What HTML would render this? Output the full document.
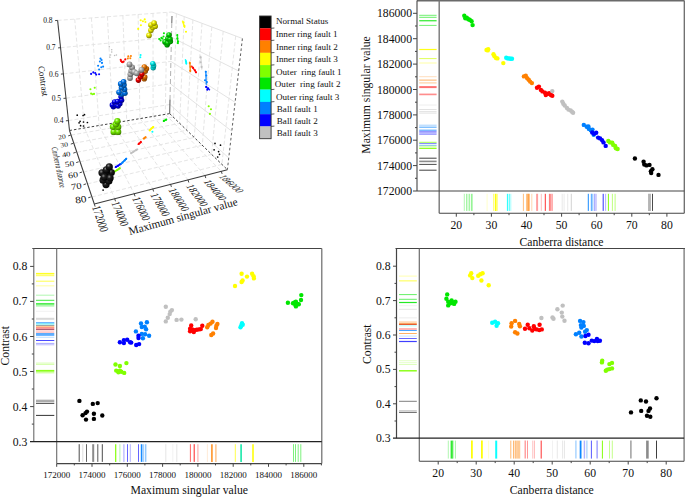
<!DOCTYPE html>
<html><head><meta charset="utf-8"><title>Feature scatter plots</title>
<style>html,body{margin:0;padding:0;background:#fff}svg{display:block}text{font-family:'Liberation Serif', serif}</style>
</head><body>
<svg width="685" height="497" viewBox="0 0 685 497">
<defs>
<radialGradient id="g_k" cx="0.38" cy="0.32" r="0.7"><stop offset="0" stop-color="#8a8a8a"/><stop offset="0.35" stop-color="#202020"/><stop offset="1" stop-color="#000000"/></radialGradient>
<radialGradient id="g_r" cx="0.38" cy="0.32" r="0.7"><stop offset="0" stop-color="#ffb2b2"/><stop offset="0.35" stop-color="#ea0000"/><stop offset="1" stop-color="#7a0000"/></radialGradient>
<radialGradient id="g_o" cx="0.38" cy="0.32" r="0.7"><stop offset="0" stop-color="#ffd8b2"/><stop offset="0.35" stop-color="#ea7500"/><stop offset="1" stop-color="#7a3d00"/></radialGradient>
<radialGradient id="g_y" cx="0.38" cy="0.32" r="0.7"><stop offset="0" stop-color="#ffffb2"/><stop offset="0.35" stop-color="#eaea00"/><stop offset="1" stop-color="#7a7a00"/></radialGradient>
<radialGradient id="g_l" cx="0.38" cy="0.32" r="0.7"><stop offset="0" stop-color="#d8ffb2"/><stop offset="0.35" stop-color="#75ea00"/><stop offset="1" stop-color="#3d7a00"/></radialGradient>
<radialGradient id="g_g" cx="0.38" cy="0.32" r="0.7"><stop offset="0" stop-color="#b2f7b2"/><stop offset="0.35" stop-color="#00d300"/><stop offset="1" stop-color="#006e00"/></radialGradient>
<radialGradient id="g_c" cx="0.38" cy="0.32" r="0.7"><stop offset="0" stop-color="#b2ffff"/><stop offset="0.35" stop-color="#00eaea"/><stop offset="1" stop-color="#007a7a"/></radialGradient>
<radialGradient id="g_b1" cx="0.38" cy="0.32" r="0.7"><stop offset="0" stop-color="#b2d8ff"/><stop offset="0.35" stop-color="#0075ea"/><stop offset="1" stop-color="#003d7a"/></radialGradient>
<radialGradient id="g_b2" cx="0.38" cy="0.32" r="0.7"><stop offset="0" stop-color="#b2b2ff"/><stop offset="0.35" stop-color="#0000ea"/><stop offset="1" stop-color="#00007a"/></radialGradient>
<radialGradient id="g_s" cx="0.38" cy="0.32" r="0.7"><stop offset="0" stop-color="#ececec"/><stop offset="0.35" stop-color="#b0b0b0"/><stop offset="1" stop-color="#5c5c5c"/></radialGradient>
</defs>
<rect width="685" height="497" fill="#fff"/>
<line x1="57.6" y1="20.4" x2="172.0" y2="12.0" stroke="#e0e0e0" stroke-width="0.85" stroke-dasharray="4 2.2"/>
<line x1="60.6" y1="47.7" x2="171.4" y2="37.2" stroke="#e0e0e0" stroke-width="0.85" stroke-dasharray="4 2.2"/>
<line x1="63.4" y1="73.9" x2="170.9" y2="61.4" stroke="#e0e0e0" stroke-width="0.85" stroke-dasharray="4 2.2"/>
<line x1="66.0" y1="98.2" x2="170.4" y2="83.8" stroke="#e0e0e0" stroke-width="0.85" stroke-dasharray="4 2.2"/>
<line x1="68.4" y1="120.6" x2="169.9" y2="104.5" stroke="#e0e0e0" stroke-width="0.85" stroke-dasharray="4 2.2"/>
<line x1="74.7" y1="19.1" x2="84.5" y2="128.0" stroke="#e0e0e0" stroke-width="0.85" stroke-dasharray="4 2.2"/>
<line x1="91.4" y1="17.9" x2="99.1" y2="125.5" stroke="#e0e0e0" stroke-width="0.85" stroke-dasharray="4 2.2"/>
<line x1="107.4" y1="16.7" x2="113.1" y2="123.1" stroke="#e0e0e0" stroke-width="0.85" stroke-dasharray="4 2.2"/>
<line x1="122.9" y1="15.6" x2="126.7" y2="120.9" stroke="#e0e0e0" stroke-width="0.85" stroke-dasharray="4 2.2"/>
<line x1="138.1" y1="14.5" x2="140.0" y2="118.6" stroke="#e0e0e0" stroke-width="0.85" stroke-dasharray="4 2.2"/>
<line x1="153.0" y1="13.4" x2="153.1" y2="116.4" stroke="#e0e0e0" stroke-width="0.85" stroke-dasharray="4 2.2"/>
<line x1="167.0" y1="12.4" x2="165.3" y2="114.3" stroke="#e0e0e0" stroke-width="0.85" stroke-dasharray="4 2.2"/>
<line x1="172.0" y1="12.0" x2="242.4" y2="38.5" stroke="#d9d9d9" stroke-width="0.75" />
<line x1="171.4" y1="37.2" x2="238.7" y2="71.0" stroke="#d9d9d9" stroke-width="0.75" />
<line x1="170.9" y1="61.4" x2="235.1" y2="102.3" stroke="#d9d9d9" stroke-width="0.75" />
<line x1="170.4" y1="83.8" x2="231.8" y2="131.2" stroke="#d9d9d9" stroke-width="0.75" />
<line x1="169.9" y1="104.5" x2="228.7" y2="157.9" stroke="#d9d9d9" stroke-width="0.75" />
<line x1="176.4" y1="13.7" x2="173.3" y2="117.1" stroke="#e0e0e0" stroke-width="0.85" stroke-dasharray="4 2.2"/>
<line x1="184.2" y1="16.6" x2="179.7" y2="123.4" stroke="#e0e0e0" stroke-width="0.85" stroke-dasharray="4 2.2"/>
<line x1="192.9" y1="19.9" x2="186.8" y2="130.3" stroke="#e0e0e0" stroke-width="0.85" stroke-dasharray="4 2.2"/>
<line x1="202.0" y1="23.3" x2="194.3" y2="137.5" stroke="#e0e0e0" stroke-width="0.85" stroke-dasharray="4 2.2"/>
<line x1="211.8" y1="27.0" x2="202.3" y2="145.3" stroke="#e0e0e0" stroke-width="0.85" stroke-dasharray="4 2.2"/>
<line x1="223.2" y1="31.3" x2="211.6" y2="154.4" stroke="#e0e0e0" stroke-width="0.85" stroke-dasharray="4 2.2"/>
<line x1="235.7" y1="36.0" x2="221.9" y2="164.4" stroke="#e0e0e0" stroke-width="0.85" stroke-dasharray="4 2.2"/>
<line x1="84.5" y1="128.0" x2="114.7" y2="198.7" stroke="#e0e0e0" stroke-width="0.85" stroke-dasharray="4 2.2"/>
<line x1="99.1" y1="125.5" x2="134.2" y2="193.7" stroke="#e0e0e0" stroke-width="0.85" stroke-dasharray="4 2.2"/>
<line x1="113.1" y1="123.1" x2="152.8" y2="188.9" stroke="#e0e0e0" stroke-width="0.85" stroke-dasharray="4 2.2"/>
<line x1="126.7" y1="120.9" x2="170.6" y2="184.3" stroke="#e0e0e0" stroke-width="0.85" stroke-dasharray="4 2.2"/>
<line x1="140.0" y1="118.6" x2="188.0" y2="179.9" stroke="#e0e0e0" stroke-width="0.85" stroke-dasharray="4 2.2"/>
<line x1="153.1" y1="116.4" x2="205.0" y2="175.5" stroke="#e0e0e0" stroke-width="0.85" stroke-dasharray="4 2.2"/>
<line x1="165.3" y1="114.3" x2="221.3" y2="171.3" stroke="#e0e0e0" stroke-width="0.85" stroke-dasharray="4 2.2"/>
<line x1="71.1" y1="135.1" x2="173.3" y2="117.1" stroke="#e0e0e0" stroke-width="0.85" stroke-dasharray="4 2.2"/>
<line x1="73.8" y1="143.3" x2="179.7" y2="123.4" stroke="#e0e0e0" stroke-width="0.85" stroke-dasharray="4 2.2"/>
<line x1="76.9" y1="152.3" x2="186.8" y2="130.3" stroke="#e0e0e0" stroke-width="0.85" stroke-dasharray="4 2.2"/>
<line x1="80.1" y1="161.8" x2="194.3" y2="137.5" stroke="#e0e0e0" stroke-width="0.85" stroke-dasharray="4 2.2"/>
<line x1="83.5" y1="172.0" x2="202.3" y2="145.3" stroke="#e0e0e0" stroke-width="0.85" stroke-dasharray="4 2.2"/>
<line x1="87.5" y1="183.9" x2="211.6" y2="154.4" stroke="#e0e0e0" stroke-width="0.85" stroke-dasharray="4 2.2"/>
<line x1="91.9" y1="197.0" x2="221.9" y2="164.4" stroke="#e0e0e0" stroke-width="0.85" stroke-dasharray="4 2.2"/>
<line x1="69.5" y1="130.5" x2="169.7" y2="113.6" stroke="#444" stroke-width="1" stroke-dasharray="2.5 2"/>
<line x1="169.7" y1="113.6" x2="227.4" y2="169.7" stroke="#444" stroke-width="1" stroke-dasharray="2.5 2"/>
<line x1="172.0" y1="16.0" x2="171.8" y2="23.0" stroke="#666" stroke-width="1" />
<line x1="171.8" y1="23.0" x2="170.0" y2="99.6" stroke="#a8a8a8" stroke-width="0.9" stroke-dasharray="5 3"/>
<line x1="170.0" y1="99.6" x2="169.7" y2="113.6" stroke="#555" stroke-width="1" />
<line x1="242.4" y1="38.5" x2="227.4" y2="169.7" stroke="#555" stroke-width="0.95" stroke-dasharray="2.6 2.4"/>
<line x1="57.6" y1="20.4" x2="69.5" y2="130.5" stroke="#3c3c3c" stroke-width="1.05" />
<line x1="69.5" y1="130.5" x2="94.3" y2="204.0" stroke="#3c3c3c" stroke-width="1.05" />
<line x1="94.3" y1="204.0" x2="227.4" y2="169.7" stroke="#3c3c3c" stroke-width="1.05" />
<line x1="55.1" y1="20.6" x2="57.6" y2="20.4" stroke="#333" stroke-width="0.9" />
<text x="52.6" y="23.0" font-size="7.5" text-anchor="end" fill="#111" >0.8</text>
<line x1="58.1" y1="47.9" x2="60.6" y2="47.7" stroke="#333" stroke-width="0.9" />
<text x="55.6" y="50.3" font-size="7.5" text-anchor="end" fill="#111" >0.7</text>
<line x1="60.9" y1="74.1" x2="63.4" y2="73.9" stroke="#333" stroke-width="0.9" />
<text x="58.4" y="76.5" font-size="7.5" text-anchor="end" fill="#111" >0.6</text>
<line x1="63.5" y1="98.4" x2="66.0" y2="98.2" stroke="#333" stroke-width="0.9" />
<text x="61.0" y="100.8" font-size="7.5" text-anchor="end" fill="#111" >0.5</text>
<line x1="65.9" y1="120.8" x2="68.4" y2="120.6" stroke="#333" stroke-width="0.9" />
<text x="63.4" y="123.2" font-size="7.5" text-anchor="end" fill="#111" >0.4</text>
<line x1="68.2" y1="135.9" x2="70.7" y2="135.1" stroke="#333" stroke-width="0.9" />
<text transform="translate(66.0,138.3) rotate(-9) scale(1.2,1)" font-size="6.4" text-anchor="end" fill="#111">20</text>
<line x1="70.8" y1="144.1" x2="73.3" y2="143.3" stroke="#333" stroke-width="0.9" />
<text transform="translate(68.4,146.4) rotate(-9) scale(1.2,1)" font-size="6.4" text-anchor="end" fill="#111">30</text>
<line x1="73.3" y1="153.1" x2="75.8" y2="152.3" stroke="#333" stroke-width="0.9" />
<text transform="translate(70.8,156.1) rotate(-9) scale(1.2,1)" font-size="7.1" text-anchor="end" fill="#111">40</text>
<line x1="76.2" y1="162.6" x2="78.7" y2="161.8" stroke="#333" stroke-width="0.9" />
<text transform="translate(74.5,165.7) rotate(-9) scale(1.2,1)" font-size="7.8" text-anchor="end" fill="#111">50</text>
<line x1="79.6" y1="172.8" x2="82.1" y2="172.0" stroke="#333" stroke-width="0.9" />
<text transform="translate(78.4,177.0) rotate(-9) scale(1.2,1)" font-size="8.3" text-anchor="end" fill="#111">60</text>
<line x1="83.5" y1="184.7" x2="86.0" y2="183.9" stroke="#333" stroke-width="0.9" />
<text transform="translate(82.1,188.3) rotate(-9) scale(1.2,1)" font-size="8.9" text-anchor="end" fill="#111">70</text>
<line x1="88.2" y1="197.8" x2="90.7" y2="197.0" stroke="#333" stroke-width="0.9" />
<text transform="translate(86.9,201.8) rotate(-9) scale(1.2,1)" font-size="9.5" text-anchor="end" fill="#111">80</text>
<line x1="94.3" y1="204.0" x2="95.1" y2="206.6" stroke="#333" stroke-width="0.9" />
<text transform="matrix(0.2255,0.6778,-0.9554,0.2455,92.1,206.9)" font-size="12.6" text-anchor="start" fill="#111">172000</text>
<line x1="114.7" y1="198.7" x2="115.5" y2="201.3" stroke="#333" stroke-width="0.9" />
<text transform="matrix(0.2621,0.6359,-0.9326,0.2396,111.2,202.7)" font-size="12.6" text-anchor="start" fill="#111">174000</text>
<line x1="134.2" y1="193.7" x2="135.0" y2="196.3" stroke="#333" stroke-width="0.9" />
<text transform="matrix(0.2948,0.6097,-0.9099,0.2338,131.9,198.2)" font-size="12.6" text-anchor="start" fill="#111">176000</text>
<line x1="152.8" y1="188.9" x2="153.6" y2="191.5" stroke="#333" stroke-width="0.9" />
<text transform="matrix(0.3413,0.5911,-0.8985,0.2309,150.1,194.5)" font-size="12.6" text-anchor="start" fill="#111">178000</text>
<line x1="170.6" y1="184.3" x2="171.4" y2="186.9" stroke="#333" stroke-width="0.9" />
<text transform="matrix(0.3783,0.5871,-0.8871,0.2280,168.0,189.5)" font-size="12.6" text-anchor="start" fill="#111">180000</text>
<line x1="188.0" y1="179.9" x2="188.8" y2="182.5" stroke="#333" stroke-width="0.9" />
<text transform="matrix(0.4242,0.5548,-0.8644,0.2221,185.5,185.8)" font-size="12.6" text-anchor="start" fill="#111">182000</text>
<line x1="205.0" y1="175.5" x2="205.8" y2="178.1" stroke="#333" stroke-width="0.9" />
<text transform="matrix(0.4566,0.5215,-0.8530,0.2192,203.0,181.2)" font-size="12.6" text-anchor="start" fill="#111">184000</text>
<line x1="221.3" y1="171.3" x2="222.1" y2="173.9" stroke="#333" stroke-width="0.9" />
<text transform="matrix(0.5131,0.4461,-0.8416,0.2163,218.0,176.3)" font-size="12.6" text-anchor="start" fill="#111">186000</text>
<text transform="translate(184,220.0) rotate(-15.6)" font-size="11.2" text-anchor="middle" fill="#111">Maximum singular value</text>
<text transform="translate(40.3,81.5) rotate(82)" font-size="9.0" text-anchor="middle" fill="#111">Contrast</text>
<text transform="translate(55.8,167.9) rotate(78) scale(0.62,1)" font-size="8.9" font-style="italic" text-anchor="middle" fill="#111">Canberra distance</text>
<circle cx="109.3" cy="46.8" r="0.8" fill="#bdbdbd" />
<circle cx="111.7" cy="49.7" r="0.8" fill="#bdbdbd" />
<circle cx="111.7" cy="52.0" r="0.8" fill="#bdbdbd" />
<circle cx="110.5" cy="55.0" r="0.8" fill="#bdbdbd" />
<circle cx="109.9" cy="57.3" r="0.8" fill="#bdbdbd" />
<circle cx="114.6" cy="55.5" r="0.8" fill="#bdbdbd" />
<circle cx="116.4" cy="55.0" r="0.8" fill="#bdbdbd" />
<circle cx="140.7" cy="20.2" r="1.05" fill="#ffff00" />
<circle cx="144.7" cy="19.4" r="1.05" fill="#ffff00" />
<circle cx="145.4" cy="22.0" r="1.05" fill="#ffff00" />
<circle cx="142.9" cy="21.2" r="1.05" fill="#ffff00" />
<circle cx="140.9" cy="25.2" r="1.05" fill="#ffff00" />
<circle cx="138.2" cy="28.9" r="1.05" fill="#ffff00" />
<circle cx="183.6" cy="22.3" r="1.05" fill="#ffff00" />
<circle cx="184.5" cy="26.1" r="1.05" fill="#ffff00" />
<circle cx="186.0" cy="31.8" r="1.05" fill="#ffff00" />
<circle cx="151.5" cy="128.2" r="1.05" fill="#ffff00" />
<circle cx="153.2" cy="127.0" r="1.05" fill="#ffff00" />
<circle cx="149.8" cy="130.3" r="1.05" fill="#ffff00" />
<circle cx="163.9" cy="33.2" r="1.05" fill="#00e600" />
<circle cx="163.5" cy="36.5" r="1.05" fill="#00e600" />
<circle cx="161.4" cy="37.9" r="1.05" fill="#00e600" />
<circle cx="159.2" cy="39.0" r="1.05" fill="#00e600" />
<circle cx="160.6" cy="40.4" r="1.05" fill="#00e600" />
<circle cx="162.4" cy="38.6" r="1.05" fill="#00e600" />
<circle cx="177.3" cy="35.0" r="1.05" fill="#00e600" />
<circle cx="177.3" cy="38.6" r="1.05" fill="#00e600" />
<circle cx="178.0" cy="41.5" r="1.05" fill="#00e600" />
<circle cx="177.7" cy="43.0" r="1.05" fill="#00e600" />
<circle cx="163.9" cy="120.9" r="1.05" fill="#00e600" />
<circle cx="166.1" cy="119.7" r="1.05" fill="#00e600" />
<circle cx="200.6" cy="57.4" r="1.05" fill="#c0c0c0" />
<circle cx="200.6" cy="62.2" r="1.05" fill="#c0c0c0" />
<circle cx="201.6" cy="66.9" r="1.05" fill="#c0c0c0" />
<circle cx="131.2" cy="153.1" r="1.05" fill="#c0c0c0" />
<circle cx="133.4" cy="151.6" r="1.05" fill="#c0c0c0" />
<circle cx="136.4" cy="150.1" r="1.05" fill="#c0c0c0" />
<circle cx="120.7" cy="59.8" r="1.05" fill="#ff0000" />
<circle cx="121.9" cy="61.9" r="1.05" fill="#ff0000" />
<circle cx="123.6" cy="61.5" r="1.05" fill="#ff0000" />
<circle cx="125.3" cy="59.4" r="1.05" fill="#ff0000" />
<circle cx="121.0" cy="61.0" r="1.05" fill="#ff0000" />
<circle cx="122.8" cy="62.2" r="1.05" fill="#ff0000" />
<circle cx="193.1" cy="67.9" r="1.05" fill="#ff0000" />
<circle cx="195.0" cy="70.3" r="1.05" fill="#ff0000" />
<circle cx="195.9" cy="72.2" r="1.05" fill="#ff0000" />
<circle cx="139.1" cy="143.6" r="1.05" fill="#ff0000" />
<circle cx="140.8" cy="141.9" r="1.05" fill="#ff0000" />
<circle cx="128.3" cy="56.4" r="1.05" fill="#ff8000" />
<circle cx="127.8" cy="58.5" r="1.05" fill="#ff8000" />
<circle cx="130.9" cy="56.0" r="1.05" fill="#ff8000" />
<circle cx="130.3" cy="58.2" r="1.05" fill="#ff8000" />
<circle cx="189.8" cy="63.1" r="1.05" fill="#ff8000" />
<circle cx="190.6" cy="66.9" r="1.05" fill="#ff8000" />
<circle cx="190.2" cy="70.7" r="1.05" fill="#ff8000" />
<circle cx="144.2" cy="138.5" r="1.05" fill="#ff8000" />
<circle cx="145.5" cy="137.3" r="1.05" fill="#ff8000" />
<circle cx="140.6" cy="55.0" r="1.05" fill="#00ffff" />
<circle cx="140.3" cy="57.3" r="1.05" fill="#00ffff" />
<circle cx="186.0" cy="61.2" r="1.05" fill="#00ffff" />
<circle cx="186.3" cy="63.0" r="1.05" fill="#00ffff" />
<circle cx="152.4" cy="131.8" r="1.05" fill="#00ffff" />
<circle cx="100.5" cy="58.6" r="1.05" fill="#0080ff" />
<circle cx="101.6" cy="60.0" r="1.05" fill="#0080ff" />
<circle cx="99.9" cy="61.5" r="1.05" fill="#0080ff" />
<circle cx="102.0" cy="62.9" r="1.05" fill="#0080ff" />
<circle cx="98.1" cy="65.8" r="1.05" fill="#0080ff" />
<circle cx="101.3" cy="67.3" r="1.05" fill="#0080ff" />
<circle cx="103.1" cy="66.6" r="1.05" fill="#0080ff" />
<circle cx="99.1" cy="69.5" r="1.05" fill="#0080ff" />
<circle cx="205.8" cy="71.7" r="1.05" fill="#0080ff" />
<circle cx="206.3" cy="75.5" r="1.05" fill="#0080ff" />
<circle cx="205.0" cy="80.2" r="1.05" fill="#0080ff" />
<circle cx="206.9" cy="82.1" r="1.05" fill="#0080ff" />
<circle cx="122.5" cy="162.6" r="1.05" fill="#0080ff" />
<circle cx="124.7" cy="160.4" r="1.05" fill="#0080ff" />
<circle cx="126.1" cy="158.9" r="1.05" fill="#0080ff" />
<circle cx="91.1" cy="73.9" r="1.05" fill="#0000ff" />
<circle cx="93.3" cy="72.4" r="1.05" fill="#0000ff" />
<circle cx="95.2" cy="73.1" r="1.05" fill="#0000ff" />
<circle cx="96.2" cy="74.6" r="1.05" fill="#0000ff" />
<circle cx="99.1" cy="74.3" r="1.05" fill="#0000ff" />
<circle cx="206.3" cy="86.9" r="1.05" fill="#0000ff" />
<circle cx="208.2" cy="88.2" r="1.05" fill="#0000ff" />
<circle cx="207.3" cy="89.7" r="1.05" fill="#0000ff" />
<circle cx="115.9" cy="166.9" r="1.05" fill="#0000ff" />
<circle cx="118.1" cy="165.8" r="1.05" fill="#0000ff" />
<circle cx="120.3" cy="164.3" r="1.05" fill="#0000ff" />
<circle cx="90.4" cy="89.2" r="1.05" fill="#80ff00" />
<circle cx="94.7" cy="87.7" r="1.05" fill="#80ff00" />
<circle cx="91.1" cy="93.6" r="1.05" fill="#80ff00" />
<circle cx="92.6" cy="94.3" r="1.05" fill="#80ff00" />
<circle cx="94.0" cy="93.9" r="1.05" fill="#80ff00" />
<circle cx="208.7" cy="106.3" r="1.05" fill="#80ff00" />
<circle cx="211.0" cy="109.2" r="1.05" fill="#80ff00" />
<circle cx="209.9" cy="113.9" r="1.05" fill="#80ff00" />
<circle cx="115.2" cy="171.3" r="1.05" fill="#80ff00" />
<circle cx="117.4" cy="169.9" r="1.05" fill="#80ff00" />
<circle cx="119.6" cy="168.4" r="1.05" fill="#80ff00" />
<circle cx="77.2" cy="115.2" r="0.85" fill="#000000" />
<circle cx="83.1" cy="115.5" r="0.85" fill="#000000" />
<circle cx="84.5" cy="114.7" r="0.85" fill="#000000" />
<circle cx="80.1" cy="121.3" r="0.85" fill="#000000" />
<circle cx="79.1" cy="122.8" r="0.85" fill="#000000" />
<circle cx="83.5" cy="122.0" r="0.85" fill="#000000" />
<circle cx="87.4" cy="122.5" r="0.85" fill="#000000" />
<circle cx="80.6" cy="125.7" r="0.85" fill="#000000" />
<circle cx="83.5" cy="126.0" r="0.85" fill="#000000" />
<circle cx="215.0" cy="143.4" r="0.85" fill="#000000" />
<circle cx="220.5" cy="145.2" r="0.85" fill="#000000" />
<circle cx="214.1" cy="149.8" r="0.85" fill="#000000" />
<circle cx="218.6" cy="151.6" r="0.85" fill="#000000" />
<circle cx="219.5" cy="154.3" r="0.85" fill="#000000" />
<circle cx="217.7" cy="157.0" r="0.85" fill="#000000" />
<circle cx="103.1" cy="190.1" r="0.85" fill="#000000" />
<line x1="182.6" y1="21.2" x2="184.6" y2="27.2" stroke="#ffff00" stroke-width="1.5" stroke-linecap="round" opacity="0.9"/>
<line x1="177.3" y1="35.4" x2="178.0" y2="43.5" stroke="#00e600" stroke-width="1.5" stroke-linecap="round" opacity="0.8"/>
<line x1="185.5" y1="59.8" x2="186.4" y2="64.0" stroke="#00ffff" stroke-width="1.5" stroke-linecap="round" opacity="0.9"/>
<line x1="189.8" y1="62.2" x2="190.4" y2="71.6" stroke="#ff8000" stroke-width="1.5" stroke-linecap="round" opacity="0.85"/>
<line x1="191.8" y1="66.2" x2="196.2" y2="72.5" stroke="#ff0000" stroke-width="1.5" stroke-linecap="round" opacity="0.85"/>
<line x1="200.7" y1="56.2" x2="201.8" y2="68.9" stroke="#c0c0c0" stroke-width="1.5" stroke-linecap="round" opacity="0.5"/>
<line x1="205.8" y1="71.6" x2="206.3" y2="84.3" stroke="#0080ff" stroke-width="1.5" stroke-linecap="round" opacity="0.8"/>
<line x1="205.8" y1="87.0" x2="209.4" y2="89.7" stroke="#0000ff" stroke-width="1.5" stroke-linecap="round" opacity="0.9"/>
<line x1="131.2" y1="153.4" x2="137.2" y2="149.2" stroke="#c0c0c0" stroke-width="1.7" stroke-linecap="round"/>
<line x1="115.5" y1="167.2" x2="121.0" y2="163.8" stroke="#0000ff" stroke-width="1.7" stroke-linecap="round"/>
<line x1="121.0" y1="163.8" x2="126.4" y2="158.7" stroke="#0080ff" stroke-width="1.7" stroke-linecap="round"/>
<line x1="115.0" y1="171.4" x2="119.8" y2="168.2" stroke="#80ff00" stroke-width="1.7" stroke-linecap="round"/>
<line x1="138.3" y1="144.2" x2="140.9" y2="142.3" stroke="#ff0000" stroke-width="1.7" stroke-linecap="round"/>
<line x1="143.4" y1="138.6" x2="145.6" y2="137.2" stroke="#ff8000" stroke-width="1.7" stroke-linecap="round"/>
<line x1="149.6" y1="130.4" x2="153.3" y2="126.8" stroke="#ffff00" stroke-width="1.7" stroke-linecap="round"/>
<line x1="163.6" y1="121.0" x2="166.4" y2="119.5" stroke="#00e600" stroke-width="1.7" stroke-linecap="round"/>
<circle cx="149.0" cy="35.4" r="2.8" fill="url(#g_y)"/>
<circle cx="150.9" cy="30.3" r="2.8" fill="url(#g_y)"/>
<circle cx="152.6" cy="27.5" r="2.8" fill="url(#g_y)"/>
<circle cx="150.9" cy="25.0" r="2.8" fill="url(#g_y)"/>
<circle cx="155.2" cy="26.3" r="2.8" fill="url(#g_y)"/>
<circle cx="154.1" cy="23.1" r="2.8" fill="url(#g_y)"/>
<circle cx="167.1" cy="44.8" r="2.8" fill="url(#g_g)"/>
<circle cx="165.0" cy="41.9" r="2.8" fill="url(#g_g)"/>
<circle cx="167.9" cy="43.0" r="2.8" fill="url(#g_g)"/>
<circle cx="170.3" cy="41.5" r="2.8" fill="url(#g_g)"/>
<circle cx="167.9" cy="38.6" r="2.8" fill="url(#g_g)"/>
<circle cx="170.0" cy="39.0" r="2.8" fill="url(#g_g)"/>
<circle cx="169.0" cy="35.0" r="2.8" fill="url(#g_g)"/>
<circle cx="153.2" cy="67.8" r="2.7" fill="url(#g_c)"/>
<circle cx="153.6" cy="65.7" r="2.7" fill="url(#g_c)"/>
<circle cx="152.8" cy="63.6" r="2.7" fill="url(#g_c)"/>
<circle cx="144.3" cy="78.8" r="2.8" fill="url(#g_o)"/>
<circle cx="144.7" cy="77.1" r="2.8" fill="url(#g_o)"/>
<circle cx="145.2" cy="71.2" r="2.8" fill="url(#g_o)"/>
<circle cx="146.4" cy="68.7" r="2.8" fill="url(#g_o)"/>
<circle cx="144.3" cy="67.0" r="2.8" fill="url(#g_o)"/>
<circle cx="130.0" cy="78.0" r="2.9" fill="url(#g_s)"/>
<circle cx="130.4" cy="74.2" r="2.9" fill="url(#g_s)"/>
<circle cx="131.2" cy="70.8" r="2.9" fill="url(#g_s)"/>
<circle cx="132.1" cy="67.4" r="2.9" fill="url(#g_s)"/>
<circle cx="129.5" cy="64.4" r="2.9" fill="url(#g_s)"/>
<circle cx="134.2" cy="72.0" r="2.9" fill="url(#g_s)"/>
<circle cx="138.4" cy="80.1" r="2.8" fill="url(#g_r)"/>
<circle cx="140.5" cy="76.7" r="2.8" fill="url(#g_r)"/>
<circle cx="141.8" cy="74.2" r="2.8" fill="url(#g_r)"/>
<circle cx="136.7" cy="73.3" r="2.9" fill="url(#g_s)"/>
<circle cx="141.4" cy="69.9" r="2.9" fill="url(#g_s)"/>
<circle cx="113.4" cy="106.7" r="2.7" fill="url(#g_b2)"/>
<circle cx="112.3" cy="105.0" r="2.7" fill="url(#g_b2)"/>
<circle cx="115.8" cy="105.0" r="2.7" fill="url(#g_b2)"/>
<circle cx="118.1" cy="106.1" r="2.7" fill="url(#g_b2)"/>
<circle cx="119.9" cy="103.8" r="2.7" fill="url(#g_b2)"/>
<circle cx="114.6" cy="102.0" r="2.7" fill="url(#g_b2)"/>
<circle cx="117.5" cy="101.5" r="2.7" fill="url(#g_b2)"/>
<circle cx="121.6" cy="100.3" r="2.7" fill="url(#g_b2)"/>
<circle cx="121.0" cy="96.8" r="2.7" fill="url(#g_b2)"/>
<circle cx="121.6" cy="94.2" r="2.8" fill="url(#g_b1)"/>
<circle cx="124.9" cy="93.2" r="2.8" fill="url(#g_b1)"/>
<circle cx="119.0" cy="92.3" r="2.8" fill="url(#g_b1)"/>
<circle cx="124.5" cy="89.4" r="2.8" fill="url(#g_b1)"/>
<circle cx="121.5" cy="87.7" r="2.8" fill="url(#g_b1)"/>
<circle cx="124.0" cy="85.1" r="2.8" fill="url(#g_b1)"/>
<circle cx="120.7" cy="83.9" r="2.8" fill="url(#g_b1)"/>
<circle cx="123.6" cy="81.8" r="2.8" fill="url(#g_b1)"/>
<circle cx="113.7" cy="131.9" r="3.2" fill="url(#g_l)"/>
<circle cx="118.1" cy="131.9" r="3.2" fill="url(#g_l)"/>
<circle cx="113.0" cy="126.8" r="3.2" fill="url(#g_l)"/>
<circle cx="118.1" cy="127.0" r="3.2" fill="url(#g_l)"/>
<circle cx="115.9" cy="124.2" r="3.2" fill="url(#g_l)"/>
<circle cx="117.4" cy="121.3" r="3.2" fill="url(#g_l)"/>
<circle cx="106.0" cy="184.6" r="3.6" fill="url(#g_k)"/>
<circle cx="103.1" cy="180.2" r="3.6" fill="url(#g_k)"/>
<circle cx="108.9" cy="180.9" r="3.6" fill="url(#g_k)"/>
<circle cx="105.3" cy="176.6" r="3.6" fill="url(#g_k)"/>
<circle cx="102.0" cy="172.8" r="3.6" fill="url(#g_k)"/>
<circle cx="111.3" cy="172.5" r="3.6" fill="url(#g_k)"/>
<circle cx="106.7" cy="171.5" r="3.6" fill="url(#g_k)"/>
<circle cx="106.4" cy="169.9" r="3.6" fill="url(#g_k)"/>
<circle cx="109.3" cy="166.9" r="3.6" fill="url(#g_k)"/>
<circle cx="104.2" cy="177.2" r="3.6" fill="url(#g_k)"/>
<circle cx="110.1" cy="178.0" r="3.6" fill="url(#g_k)"/>
<rect x="259.6" y="16.00" width="11.5" height="12.37" fill="#000000"/>
<text x="276.0" y="24.0" font-size="9.1" text-anchor="start" fill="#111" xml:space="preserve">Normal Status</text>
<rect x="259.6" y="28.27" width="11.5" height="12.37" fill="#ff0000"/>
<text x="275.8" y="37.4" font-size="9.1" text-anchor="start" fill="#111" xml:space="preserve">Inner ring fault 1</text>
<line x1="271.1" y1="28.3" x2="274.4" y2="28.0" stroke="#333" stroke-width="0.8" />
<rect x="259.6" y="40.54" width="11.5" height="12.37" fill="#ff8000"/>
<text x="276.0" y="49.7" font-size="9.1" text-anchor="start" fill="#111" xml:space="preserve">Inner ring fault 2</text>
<line x1="271.1" y1="40.5" x2="274.4" y2="40.2" stroke="#333" stroke-width="0.8" />
<rect x="259.6" y="52.81" width="11.5" height="12.37" fill="#ffff00"/>
<text x="276.0" y="62.1" font-size="9.1" text-anchor="start" fill="#111" xml:space="preserve">Inner ring fault 3</text>
<line x1="271.1" y1="52.8" x2="274.4" y2="52.5" stroke="#333" stroke-width="0.8" />
<rect x="259.6" y="65.08" width="11.5" height="12.37" fill="#80ff00"/>
<text x="276.0" y="74.8" font-size="9.1" text-anchor="start" fill="#111" xml:space="preserve">Outer  ring fault 1</text>
<line x1="271.1" y1="65.1" x2="274.4" y2="64.8" stroke="#333" stroke-width="0.8" />
<rect x="259.6" y="77.35" width="11.5" height="12.37" fill="#00e600"/>
<text x="274.8" y="87.0" font-size="9.1" text-anchor="start" fill="#111" xml:space="preserve">Outer  ring fault 2</text>
<line x1="271.1" y1="77.3" x2="274.4" y2="77.0" stroke="#333" stroke-width="0.8" />
<rect x="259.6" y="89.62" width="11.5" height="12.37" fill="#00ffff"/>
<text x="276.0" y="99.7" font-size="9.1" text-anchor="start" fill="#111" xml:space="preserve">Outer ring fault 3</text>
<line x1="271.1" y1="89.6" x2="274.4" y2="89.3" stroke="#333" stroke-width="0.8" />
<rect x="259.6" y="101.89" width="11.5" height="12.37" fill="#0080ff"/>
<text x="276.8" y="111.5" font-size="9.1" text-anchor="start" fill="#111" xml:space="preserve">Ball fault 1</text>
<line x1="271.1" y1="101.9" x2="274.4" y2="101.6" stroke="#333" stroke-width="0.8" />
<rect x="259.6" y="114.16" width="11.5" height="12.37" fill="#0000ff"/>
<text x="276.8" y="123.6" font-size="9.1" text-anchor="start" fill="#111" xml:space="preserve">Ball fault 2</text>
<line x1="271.1" y1="114.2" x2="274.4" y2="113.9" stroke="#333" stroke-width="0.8" />
<rect x="259.6" y="126.43" width="11.5" height="12.37" fill="#c0c0c0"/>
<text x="276.8" y="135.9" font-size="9.1" text-anchor="start" fill="#111" xml:space="preserve">Ball fault 3</text>
<line x1="271.1" y1="126.4" x2="274.4" y2="126.1" stroke="#333" stroke-width="0.8" />
<rect x="259.6" y="16.0" width="11.5" height="122.7" fill="none" stroke="#333" stroke-width="0.9"/>
<line x1="417.0" y1="0.7" x2="684.3" y2="0.7" stroke="#6a6a6a" stroke-width="1.5" />
<line x1="684.3" y1="0.5" x2="684.3" y2="213.2" stroke="#6a6a6a" stroke-width="1.3" />
<line x1="439.2" y1="0.5" x2="439.2" y2="213.2" stroke="#777" stroke-width="1.4" />
<line x1="417.0" y1="0.5" x2="417.0" y2="191.0" stroke="#444444" stroke-width="1.1" />
<line x1="413.0" y1="191.0" x2="684.3" y2="191.0" stroke="#444444" stroke-width="1.1" />
<line x1="439.2" y1="213.2" x2="684.3" y2="213.2" stroke="#444444" stroke-width="1.1" />
<line x1="413.0" y1="13.3" x2="417.0" y2="13.3" stroke="#444444" stroke-width="1" />
<text x="412.0" y="17.3" font-size="11.7" text-anchor="end" fill="#111" >186000</text>
<line x1="415.0" y1="26.0" x2="417.0" y2="26.0" stroke="#444444" stroke-width="1" />
<line x1="413.0" y1="38.7" x2="417.0" y2="38.7" stroke="#444444" stroke-width="1" />
<text x="412.0" y="42.7" font-size="11.7" text-anchor="end" fill="#111" >184000</text>
<line x1="415.0" y1="51.4" x2="417.0" y2="51.4" stroke="#444444" stroke-width="1" />
<line x1="413.0" y1="64.1" x2="417.0" y2="64.1" stroke="#444444" stroke-width="1" />
<text x="412.0" y="68.1" font-size="11.7" text-anchor="end" fill="#111" >182000</text>
<line x1="415.0" y1="76.8" x2="417.0" y2="76.8" stroke="#444444" stroke-width="1" />
<line x1="413.0" y1="89.5" x2="417.0" y2="89.5" stroke="#444444" stroke-width="1" />
<text x="412.0" y="93.5" font-size="11.7" text-anchor="end" fill="#111" >180000</text>
<line x1="415.0" y1="102.2" x2="417.0" y2="102.2" stroke="#444444" stroke-width="1" />
<line x1="413.0" y1="114.9" x2="417.0" y2="114.9" stroke="#444444" stroke-width="1" />
<text x="412.0" y="118.9" font-size="11.7" text-anchor="end" fill="#111" >178000</text>
<line x1="415.0" y1="127.6" x2="417.0" y2="127.6" stroke="#444444" stroke-width="1" />
<line x1="413.0" y1="140.2" x2="417.0" y2="140.2" stroke="#444444" stroke-width="1" />
<text x="412.0" y="144.2" font-size="11.7" text-anchor="end" fill="#111" >176000</text>
<line x1="415.0" y1="152.9" x2="417.0" y2="152.9" stroke="#444444" stroke-width="1" />
<line x1="413.0" y1="165.6" x2="417.0" y2="165.6" stroke="#444444" stroke-width="1" />
<text x="412.0" y="169.6" font-size="11.7" text-anchor="end" fill="#111" >174000</text>
<line x1="415.0" y1="178.3" x2="417.0" y2="178.3" stroke="#444444" stroke-width="1" />
<text x="412.0" y="195.0" font-size="11.7" text-anchor="end" fill="#111" >172000</text>
<line x1="456.3" y1="213.2" x2="456.3" y2="216.7" stroke="#444444" stroke-width="1" />
<text x="456.3" y="228.5" font-size="11.7" text-anchor="middle" fill="#111" >20</text>
<line x1="473.9" y1="213.2" x2="473.9" y2="215.2" stroke="#444444" stroke-width="1" />
<line x1="491.4" y1="213.2" x2="491.4" y2="216.7" stroke="#444444" stroke-width="1" />
<text x="491.4" y="228.5" font-size="11.7" text-anchor="middle" fill="#111" >30</text>
<line x1="509.0" y1="213.2" x2="509.0" y2="215.2" stroke="#444444" stroke-width="1" />
<line x1="526.5" y1="213.2" x2="526.5" y2="216.7" stroke="#444444" stroke-width="1" />
<text x="526.5" y="228.5" font-size="11.7" text-anchor="middle" fill="#111" >40</text>
<line x1="544.0" y1="213.2" x2="544.0" y2="215.2" stroke="#444444" stroke-width="1" />
<line x1="561.6" y1="213.2" x2="561.6" y2="216.7" stroke="#444444" stroke-width="1" />
<text x="561.6" y="228.5" font-size="11.7" text-anchor="middle" fill="#111" >50</text>
<line x1="579.1" y1="213.2" x2="579.1" y2="215.2" stroke="#444444" stroke-width="1" />
<line x1="596.7" y1="213.2" x2="596.7" y2="216.7" stroke="#444444" stroke-width="1" />
<text x="596.7" y="228.5" font-size="11.7" text-anchor="middle" fill="#111" >60</text>
<line x1="614.2" y1="213.2" x2="614.2" y2="215.2" stroke="#444444" stroke-width="1" />
<line x1="631.8" y1="213.2" x2="631.8" y2="216.7" stroke="#444444" stroke-width="1" />
<text x="631.8" y="228.5" font-size="11.7" text-anchor="middle" fill="#111" >70</text>
<line x1="649.3" y1="213.2" x2="649.3" y2="215.2" stroke="#444444" stroke-width="1" />
<line x1="666.9" y1="213.2" x2="666.9" y2="216.7" stroke="#444444" stroke-width="1" />
<text x="666.9" y="228.5" font-size="11.7" text-anchor="middle" fill="#111" >80</text>
<text x="561.5" y="246.0" font-size="11.7" text-anchor="middle" fill="#111" >Canberra distance</text>
<text transform="translate(370.3,95) rotate(-90)" font-size="11.7" text-anchor="middle" fill="#111">Maximum singular value</text>
<line x1="419.2" y1="15.3" x2="436.6" y2="15.3" stroke="#00e600" stroke-width="1" opacity="0.55"/>
<line x1="419.2" y1="17.3" x2="436.6" y2="17.3" stroke="#00e600" stroke-width="1" opacity="0.6"/>
<line x1="419.2" y1="20.7" x2="436.6" y2="20.7" stroke="#00e600" stroke-width="1.4" opacity="0.7"/>
<line x1="419.2" y1="25.4" x2="436.6" y2="25.4" stroke="#00e600" stroke-width="1" opacity="0.55"/>
<line x1="419.2" y1="49.5" x2="436.6" y2="49.5" stroke="#ffff00" stroke-width="1.2" opacity="0.9"/>
<line x1="419.2" y1="58.6" x2="436.6" y2="58.6" stroke="#d8ff30" stroke-width="1" opacity="0.8"/>
<line x1="419.2" y1="63.0" x2="436.6" y2="63.0" stroke="#ffff00" stroke-width="1" opacity="0.35"/>
<line x1="419.2" y1="76.7" x2="436.6" y2="76.7" stroke="#ff8000" stroke-width="1" opacity="0.25"/>
<line x1="419.2" y1="80.1" x2="436.6" y2="80.1" stroke="#ff8000" stroke-width="1" opacity="0.6"/>
<line x1="419.2" y1="82.9" x2="436.6" y2="82.9" stroke="#ff8000" stroke-width="1.2" opacity="0.35"/>
<line x1="419.2" y1="87.1" x2="436.6" y2="87.1" stroke="#ff0000" stroke-width="2" opacity="0.55"/>
<line x1="419.2" y1="94.2" x2="436.6" y2="94.2" stroke="#ff0000" stroke-width="1" opacity="0.6"/>
<line x1="419.2" y1="95.2" x2="436.6" y2="95.2" stroke="#ff0000" stroke-width="1" opacity="0.15"/>
<line x1="419.2" y1="105.0" x2="436.6" y2="105.0" stroke="#c0c0c0" stroke-width="1" opacity="0.25"/>
<line x1="419.2" y1="109.5" x2="436.6" y2="109.5" stroke="#c0c0c0" stroke-width="1" opacity="0.45"/>
<line x1="419.2" y1="111.5" x2="436.6" y2="111.5" stroke="#c0c0c0" stroke-width="1" opacity="0.4"/>
<line x1="419.2" y1="113.1" x2="436.6" y2="113.1" stroke="#c0c0c0" stroke-width="1.2" opacity="0.4"/>
<line x1="419.2" y1="125.2" x2="436.6" y2="125.2" stroke="#0080ff" stroke-width="1" opacity="0.35"/>
<line x1="419.2" y1="127.2" x2="436.6" y2="127.2" stroke="#0080ff" stroke-width="1.2" opacity="0.6"/>
<line x1="419.2" y1="130.2" x2="436.6" y2="130.2" stroke="#0080ff" stroke-width="1.2" opacity="0.6"/>
<line x1="419.2" y1="131.4" x2="436.6" y2="131.4" stroke="#0000ff" stroke-width="1" opacity="0.45"/>
<line x1="419.2" y1="132.8" x2="436.6" y2="132.8" stroke="#0000ff" stroke-width="1" opacity="0.45"/>
<line x1="419.2" y1="134.2" x2="436.6" y2="134.2" stroke="#0000ff" stroke-width="1" opacity="0.5"/>
<line x1="419.2" y1="142.3" x2="436.6" y2="142.3" stroke="#80ff00" stroke-width="1" opacity="0.7"/>
<line x1="419.2" y1="143.5" x2="436.6" y2="143.5" stroke="#0000ff" stroke-width="1" opacity="0.45"/>
<line x1="419.2" y1="145.3" x2="436.6" y2="145.3" stroke="#0080ff" stroke-width="1" opacity="0.5"/>
<line x1="419.2" y1="146.2" x2="436.6" y2="146.2" stroke="#80ff00" stroke-width="1" opacity="0.4"/>
<line x1="419.2" y1="148.3" x2="436.6" y2="148.3" stroke="#80ff00" stroke-width="1.2" opacity="0.95"/>
<line x1="419.2" y1="158.2" x2="436.6" y2="158.2" stroke="#000000" stroke-width="1" opacity="0.75"/>
<line x1="419.2" y1="161.4" x2="436.6" y2="161.4" stroke="#000000" stroke-width="1.6" opacity="0.45"/>
<line x1="419.2" y1="164.4" x2="436.6" y2="164.4" stroke="#000000" stroke-width="1" opacity="0.7"/>
<line x1="419.2" y1="170.2" x2="436.6" y2="170.2" stroke="#000000" stroke-width="1" opacity="0.75"/>
<line x1="464.3" y1="193.8" x2="464.3" y2="210.9" stroke="#00e600" stroke-width="1" opacity="0.3"/>
<line x1="466.8" y1="193.8" x2="466.8" y2="210.9" stroke="#00e600" stroke-width="1" opacity="0.5"/>
<line x1="469.2" y1="193.8" x2="469.2" y2="210.9" stroke="#00e600" stroke-width="1" opacity="0.5"/>
<line x1="471.4" y1="193.8" x2="471.4" y2="210.9" stroke="#00e600" stroke-width="1" opacity="0.45"/>
<line x1="472.5" y1="193.8" x2="472.5" y2="210.9" stroke="#00e600" stroke-width="1" opacity="0.25"/>
<line x1="487.1" y1="193.8" x2="487.1" y2="210.9" stroke="#ffff00" stroke-width="1" opacity="0.2"/>
<line x1="493.8" y1="193.8" x2="493.8" y2="210.9" stroke="#ffff00" stroke-width="1" opacity="0.7"/>
<line x1="495.7" y1="193.8" x2="495.7" y2="210.9" stroke="#ffff00" stroke-width="1.4" opacity="0.95"/>
<line x1="497.1" y1="193.8" x2="497.1" y2="210.9" stroke="#ffff00" stroke-width="1" opacity="0.7"/>
<line x1="507.5" y1="193.8" x2="507.5" y2="210.9" stroke="#00ffff" stroke-width="1.2" opacity="0.8"/>
<line x1="509.3" y1="193.8" x2="509.3" y2="210.9" stroke="#00ffff" stroke-width="1" opacity="0.7"/>
<line x1="510.8" y1="193.8" x2="510.8" y2="210.9" stroke="#00ffff" stroke-width="1" opacity="0.35"/>
<line x1="523.4" y1="193.8" x2="523.4" y2="210.9" stroke="#ff8000" stroke-width="1" opacity="0.5"/>
<line x1="526.7" y1="193.8" x2="526.7" y2="210.9" stroke="#ff8000" stroke-width="1" opacity="0.55"/>
<line x1="528.1" y1="193.8" x2="528.1" y2="210.9" stroke="#ff8000" stroke-width="1.4" opacity="0.85"/>
<line x1="529.4" y1="193.8" x2="529.4" y2="210.9" stroke="#ff8000" stroke-width="1" opacity="0.5"/>
<line x1="531.8" y1="193.8" x2="531.8" y2="210.9" stroke="#ff8000" stroke-width="1" opacity="0.3"/>
<line x1="536.7" y1="193.8" x2="536.7" y2="210.9" stroke="#ff0000" stroke-width="1" opacity="0.4"/>
<line x1="537.6" y1="193.8" x2="537.6" y2="210.9" stroke="#ff0000" stroke-width="1" opacity="0.35"/>
<line x1="541.3" y1="193.8" x2="541.3" y2="210.9" stroke="#ff0000" stroke-width="1" opacity="0.25"/>
<line x1="545.3" y1="193.8" x2="545.3" y2="210.9" stroke="#ff0000" stroke-width="1" opacity="0.8"/>
<line x1="549.5" y1="193.8" x2="549.5" y2="210.9" stroke="#ff0000" stroke-width="1.2" opacity="0.5"/>
<line x1="550.8" y1="193.8" x2="550.8" y2="210.9" stroke="#ff0000" stroke-width="1" opacity="0.55"/>
<line x1="552.2" y1="193.8" x2="552.2" y2="210.9" stroke="#ff0000" stroke-width="1" opacity="0.45"/>
<line x1="562.2" y1="193.8" x2="562.2" y2="210.9" stroke="#c0c0c0" stroke-width="1" opacity="0.35"/>
<line x1="564.1" y1="193.8" x2="564.1" y2="210.9" stroke="#c0c0c0" stroke-width="1" opacity="0.3"/>
<line x1="567.7" y1="193.8" x2="567.7" y2="210.9" stroke="#c0c0c0" stroke-width="1" opacity="0.35"/>
<line x1="571.3" y1="193.8" x2="571.3" y2="210.9" stroke="#c0c0c0" stroke-width="1" opacity="0.7"/>
<line x1="588.3" y1="193.8" x2="588.3" y2="210.9" stroke="#0080ff" stroke-width="1" opacity="0.9"/>
<line x1="591.4" y1="193.8" x2="591.4" y2="210.9" stroke="#0080ff" stroke-width="1.2" opacity="0.6"/>
<line x1="592.8" y1="193.8" x2="592.8" y2="210.9" stroke="#0080ff" stroke-width="1" opacity="0.5"/>
<line x1="594.7" y1="193.8" x2="594.7" y2="210.9" stroke="#8080ff" stroke-width="1.2" opacity="0.7"/>
<line x1="596.1" y1="193.8" x2="596.1" y2="210.9" stroke="#8080ff" stroke-width="1" opacity="0.6"/>
<line x1="603.2" y1="193.8" x2="603.2" y2="210.9" stroke="#0000ff" stroke-width="1" opacity="0.8"/>
<line x1="605.6" y1="193.8" x2="605.6" y2="210.9" stroke="#8080ff" stroke-width="1" opacity="0.6"/>
<line x1="608.4" y1="193.8" x2="608.4" y2="210.9" stroke="#80ff00" stroke-width="1" opacity="0.95"/>
<line x1="612.4" y1="193.8" x2="612.4" y2="210.9" stroke="#80ff00" stroke-width="1" opacity="0.5"/>
<line x1="615.1" y1="193.8" x2="615.1" y2="210.9" stroke="#80ff00" stroke-width="1" opacity="0.5"/>
<line x1="648.9" y1="193.8" x2="648.9" y2="210.9" stroke="#000000" stroke-width="1.6" opacity="0.3"/>
<line x1="650.3" y1="193.8" x2="650.3" y2="210.9" stroke="#000000" stroke-width="1.2" opacity="0.3"/>
<line x1="652.5" y1="193.8" x2="652.5" y2="210.9" stroke="#000000" stroke-width="1" opacity="0.7"/>
<circle cx="634.9" cy="158.5" r="2.2" fill="#000000" />
<circle cx="643.6" cy="161.7" r="2.2" fill="#000000" />
<circle cx="644.3" cy="164.6" r="2.2" fill="#000000" />
<circle cx="646.5" cy="165.4" r="2.2" fill="#000000" />
<circle cx="649.5" cy="164.9" r="2.2" fill="#000000" />
<circle cx="650.9" cy="171.2" r="2.2" fill="#000000" />
<circle cx="652.4" cy="169.3" r="2.2" fill="#000000" />
<circle cx="651.2" cy="173.1" r="2.2" fill="#000000" />
<circle cx="658.5" cy="174.9" r="2.2" fill="#000000" />
<circle cx="537.0" cy="87.7" r="2.2" fill="#ff0000" />
<circle cx="538.9" cy="86.6" r="2.2" fill="#ff0000" />
<circle cx="540.9" cy="89.9" r="2.2" fill="#ff0000" />
<circle cx="542.4" cy="91.4" r="2.2" fill="#ff0000" />
<circle cx="545.0" cy="92.8" r="2.2" fill="#ff0000" />
<circle cx="545.8" cy="95.0" r="2.2" fill="#ff0000" />
<circle cx="547.7" cy="93.9" r="2.2" fill="#ff0000" />
<circle cx="549.1" cy="93.3" r="2.2" fill="#ff0000" />
<circle cx="550.9" cy="95.0" r="2.2" fill="#ff0000" />
<circle cx="552.3" cy="95.8" r="2.2" fill="#ff0000" />
<circle cx="523.9" cy="76.4" r="2.2" fill="#ff8000" />
<circle cx="525.8" cy="75.8" r="2.2" fill="#ff8000" />
<circle cx="527.2" cy="78.2" r="2.2" fill="#ff8000" />
<circle cx="528.7" cy="79.7" r="2.2" fill="#ff8000" />
<circle cx="530.1" cy="81.6" r="2.2" fill="#ff8000" />
<circle cx="531.9" cy="83.1" r="2.2" fill="#ff8000" />
<circle cx="486.5" cy="49.9" r="2.2" fill="#ffff00" />
<circle cx="487.7" cy="50.4" r="2.2" fill="#ffff00" />
<circle cx="488.2" cy="49.3" r="2.2" fill="#ffff00" />
<circle cx="493.5" cy="54.3" r="2.2" fill="#ffff00" />
<circle cx="494.5" cy="56.2" r="2.2" fill="#ffff00" />
<circle cx="496.0" cy="58.1" r="2.2" fill="#ffff00" />
<circle cx="497.4" cy="58.4" r="2.2" fill="#ffff00" />
<circle cx="503.3" cy="63.1" r="2.2" fill="#ffff00" />
<circle cx="608.3" cy="141.0" r="2.2" fill="#80ff00" />
<circle cx="610.0" cy="142.4" r="2.2" fill="#80ff00" />
<circle cx="612.2" cy="142.7" r="2.2" fill="#80ff00" />
<circle cx="613.2" cy="144.9" r="2.2" fill="#80ff00" />
<circle cx="615.1" cy="145.9" r="2.2" fill="#80ff00" />
<circle cx="615.9" cy="148.3" r="2.2" fill="#80ff00" />
<circle cx="617.6" cy="149.0" r="2.2" fill="#80ff00" />
<circle cx="464.3" cy="15.8" r="2.2" fill="#00e600" />
<circle cx="465.3" cy="18.2" r="2.2" fill="#00e600" />
<circle cx="466.8" cy="17.8" r="2.2" fill="#00e600" />
<circle cx="468.2" cy="19.3" r="2.2" fill="#00e600" />
<circle cx="469.7" cy="19.7" r="2.2" fill="#00e600" />
<circle cx="471.6" cy="21.2" r="2.2" fill="#00e600" />
<circle cx="472.6" cy="25.1" r="2.2" fill="#00e600" />
<circle cx="506.2" cy="57.7" r="2.2" fill="#00ffff" />
<circle cx="507.7" cy="58.4" r="2.2" fill="#00ffff" />
<circle cx="509.1" cy="58.4" r="2.2" fill="#00ffff" />
<circle cx="510.6" cy="58.7" r="2.2" fill="#00ffff" />
<circle cx="512.0" cy="58.8" r="2.2" fill="#00ffff" />
<circle cx="583.8" cy="124.9" r="2.2" fill="#0080ff" />
<circle cx="586.7" cy="126.7" r="2.2" fill="#0080ff" />
<circle cx="588.4" cy="126.4" r="2.2" fill="#0080ff" />
<circle cx="588.9" cy="128.9" r="2.2" fill="#0080ff" />
<circle cx="590.8" cy="130.3" r="2.2" fill="#0080ff" />
<circle cx="592.5" cy="129.6" r="2.2" fill="#0080ff" />
<circle cx="593.7" cy="134.7" r="2.2" fill="#0080ff" />
<circle cx="592.2" cy="132.5" r="2.2" fill="#0000ff" />
<circle cx="594.0" cy="133.7" r="2.2" fill="#0000ff" />
<circle cx="596.2" cy="132.8" r="2.2" fill="#0000ff" />
<circle cx="598.1" cy="137.6" r="2.2" fill="#0000ff" />
<circle cx="600.1" cy="138.4" r="2.2" fill="#0000ff" />
<circle cx="602.0" cy="140.1" r="2.2" fill="#0000ff" />
<circle cx="603.5" cy="142.4" r="2.2" fill="#0000ff" />
<circle cx="605.7" cy="145.9" r="2.2" fill="#0000ff" />
<circle cx="552.3" cy="91.1" r="2.2" fill="#c0c0c0" />
<circle cx="562.3" cy="101.6" r="2.2" fill="#c0c0c0" />
<circle cx="563.3" cy="103.8" r="2.2" fill="#c0c0c0" />
<circle cx="564.7" cy="105.5" r="2.2" fill="#c0c0c0" />
<circle cx="566.9" cy="107.9" r="2.2" fill="#c0c0c0" />
<circle cx="568.4" cy="109.6" r="2.2" fill="#c0c0c0" />
<circle cx="570.6" cy="110.4" r="2.2" fill="#c0c0c0" />
<circle cx="572.0" cy="111.8" r="2.2" fill="#c0c0c0" />
<circle cx="573.1" cy="112.8" r="2.2" fill="#c0c0c0" />
<line x1="32.3" y1="248.5" x2="321.8" y2="248.5" stroke="#444444" stroke-width="1.2" />
<line x1="321.8" y1="248.5" x2="321.8" y2="463.6" stroke="#6a6a6a" stroke-width="1.2" />
<line x1="56.7" y1="248.5" x2="56.7" y2="463.6" stroke="#6a6a6a" stroke-width="1.1" />
<line x1="33.8" y1="248.5" x2="33.8" y2="441.6" stroke="#6a6a6a" stroke-width="1.1" />
<line x1="30.0" y1="441.6" x2="321.8" y2="441.6" stroke="#222" stroke-width="1.3" />
<line x1="56.7" y1="463.6" x2="321.8" y2="463.6" stroke="#444444" stroke-width="1.1" />
<line x1="30.1" y1="266.4" x2="33.8" y2="266.4" stroke="#444444" stroke-width="1" />
<text x="27.3" y="270.4" font-size="11.7" text-anchor="end" fill="#111" >0.8</text>
<line x1="31.8" y1="283.9" x2="33.8" y2="283.9" stroke="#444444" stroke-width="1" />
<line x1="30.1" y1="301.4" x2="33.8" y2="301.4" stroke="#444444" stroke-width="1" />
<text x="27.3" y="305.4" font-size="11.7" text-anchor="end" fill="#111" >0.7</text>
<line x1="31.8" y1="319.0" x2="33.8" y2="319.0" stroke="#444444" stroke-width="1" />
<line x1="30.1" y1="336.5" x2="33.8" y2="336.5" stroke="#444444" stroke-width="1" />
<text x="27.3" y="340.5" font-size="11.7" text-anchor="end" fill="#111" >0.6</text>
<line x1="31.8" y1="354.0" x2="33.8" y2="354.0" stroke="#444444" stroke-width="1" />
<line x1="30.1" y1="371.5" x2="33.8" y2="371.5" stroke="#444444" stroke-width="1" />
<text x="27.3" y="375.5" font-size="11.7" text-anchor="end" fill="#111" >0.5</text>
<line x1="31.8" y1="389.0" x2="33.8" y2="389.0" stroke="#444444" stroke-width="1" />
<line x1="30.1" y1="406.6" x2="33.8" y2="406.6" stroke="#444444" stroke-width="1" />
<text x="27.3" y="410.6" font-size="11.7" text-anchor="end" fill="#111" >0.4</text>
<line x1="31.8" y1="424.1" x2="33.8" y2="424.1" stroke="#444444" stroke-width="1" />
<text x="27.3" y="445.6" font-size="11.7" text-anchor="end" fill="#111" >0.3</text>
<line x1="56.7" y1="463.6" x2="56.7" y2="466.8" stroke="#444444" stroke-width="1" />
<text x="56.7" y="478.2" font-size="9.0" text-anchor="middle" fill="#111" >172000</text>
<line x1="74.3" y1="463.6" x2="74.3" y2="465.4" stroke="#444444" stroke-width="1" />
<line x1="92.0" y1="463.6" x2="92.0" y2="466.8" stroke="#444444" stroke-width="1" />
<text x="92.0" y="478.2" font-size="9.0" text-anchor="middle" fill="#111" >174000</text>
<line x1="109.7" y1="463.6" x2="109.7" y2="465.4" stroke="#444444" stroke-width="1" />
<line x1="127.3" y1="463.6" x2="127.3" y2="466.8" stroke="#444444" stroke-width="1" />
<text x="127.3" y="478.2" font-size="9.0" text-anchor="middle" fill="#111" >176000</text>
<line x1="144.9" y1="463.6" x2="144.9" y2="465.4" stroke="#444444" stroke-width="1" />
<line x1="162.6" y1="463.6" x2="162.6" y2="466.8" stroke="#444444" stroke-width="1" />
<text x="162.6" y="478.2" font-size="9.0" text-anchor="middle" fill="#111" >178000</text>
<line x1="180.2" y1="463.6" x2="180.2" y2="465.4" stroke="#444444" stroke-width="1" />
<line x1="197.9" y1="463.6" x2="197.9" y2="466.8" stroke="#444444" stroke-width="1" />
<text x="197.9" y="478.2" font-size="9.0" text-anchor="middle" fill="#111" >180000</text>
<line x1="215.5" y1="463.6" x2="215.5" y2="465.4" stroke="#444444" stroke-width="1" />
<line x1="233.2" y1="463.6" x2="233.2" y2="466.8" stroke="#444444" stroke-width="1" />
<text x="233.2" y="478.2" font-size="9.0" text-anchor="middle" fill="#111" >182000</text>
<line x1="250.8" y1="463.6" x2="250.8" y2="465.4" stroke="#444444" stroke-width="1" />
<line x1="268.5" y1="463.6" x2="268.5" y2="466.8" stroke="#444444" stroke-width="1" />
<text x="268.5" y="478.2" font-size="9.0" text-anchor="middle" fill="#111" >184000</text>
<line x1="286.1" y1="463.6" x2="286.1" y2="465.4" stroke="#444444" stroke-width="1" />
<line x1="303.8" y1="463.6" x2="303.8" y2="466.8" stroke="#444444" stroke-width="1" />
<text x="303.8" y="478.2" font-size="9.0" text-anchor="middle" fill="#111" >186000</text>
<line x1="321.4" y1="463.6" x2="321.4" y2="465.4" stroke="#444444" stroke-width="1" />
<text x="189.3" y="493.6" font-size="11.7" text-anchor="middle" fill="#111" >Maximum singular value</text>
<text transform="translate(8.7,345.7) rotate(-90)" font-size="11.7" text-anchor="middle" fill="#111">Contrast</text>
<line x1="36.0" y1="273.7" x2="54.3" y2="273.7" stroke="#ffff00" stroke-width="1.6" opacity="0.85"/>
<line x1="36.0" y1="275.7" x2="54.3" y2="275.7" stroke="#ffff00" stroke-width="1" opacity="0.7"/>
<line x1="36.0" y1="281.2" x2="54.3" y2="281.2" stroke="#ffff00" stroke-width="1" opacity="0.7"/>
<line x1="36.0" y1="285.8" x2="54.3" y2="285.8" stroke="#ffff00" stroke-width="1.2" opacity="0.3"/>
<line x1="36.0" y1="295.2" x2="54.3" y2="295.2" stroke="#00e600" stroke-width="1" opacity="0.3"/>
<line x1="36.0" y1="300.3" x2="54.3" y2="300.3" stroke="#00e600" stroke-width="1" opacity="0.75"/>
<line x1="36.0" y1="303.9" x2="54.3" y2="303.9" stroke="#00e600" stroke-width="1.5" opacity="0.8"/>
<line x1="36.0" y1="305.9" x2="54.3" y2="305.9" stroke="#00e600" stroke-width="1" opacity="0.5"/>
<line x1="36.0" y1="311.3" x2="54.3" y2="311.3" stroke="#c0c0c0" stroke-width="1" opacity="0.2"/>
<line x1="36.0" y1="318.8" x2="54.3" y2="318.8" stroke="#c0c0c0" stroke-width="2" opacity="0.6"/>
<line x1="36.0" y1="322.8" x2="54.3" y2="322.8" stroke="#0080ff" stroke-width="1.2" opacity="0.7"/>
<line x1="36.0" y1="324.0" x2="54.3" y2="324.0" stroke="#00ffff" stroke-width="1" opacity="0.6"/>
<line x1="36.0" y1="325.4" x2="54.3" y2="325.4" stroke="#555" stroke-width="1" opacity="0.6"/>
<line x1="36.0" y1="326.8" x2="54.3" y2="326.8" stroke="#ff8000" stroke-width="1" opacity="0.6"/>
<line x1="36.0" y1="328.0" x2="54.3" y2="328.0" stroke="#ff0000" stroke-width="1" opacity="0.7"/>
<line x1="36.0" y1="329.4" x2="54.3" y2="329.4" stroke="#800020" stroke-width="1" opacity="0.7"/>
<line x1="36.0" y1="331.0" x2="54.3" y2="331.0" stroke="#ff0000" stroke-width="1.4" opacity="0.2"/>
<line x1="36.0" y1="332.5" x2="54.3" y2="332.5" stroke="#ff0000" stroke-width="1.2" opacity="0.2"/>
<line x1="36.0" y1="334.0" x2="54.3" y2="334.0" stroke="#0080ff" stroke-width="1.4" opacity="0.9"/>
<line x1="36.0" y1="335.6" x2="54.3" y2="335.6" stroke="#0080ff" stroke-width="1" opacity="0.6"/>
<line x1="36.0" y1="337.5" x2="54.3" y2="337.5" stroke="#0080ff" stroke-width="1" opacity="0.2"/>
<line x1="36.0" y1="340.5" x2="54.3" y2="340.5" stroke="#0000ff" stroke-width="1" opacity="0.7"/>
<line x1="36.0" y1="343.5" x2="54.3" y2="343.5" stroke="#8080ff" stroke-width="1.2" opacity="0.6"/>
<line x1="36.0" y1="344.8" x2="54.3" y2="344.8" stroke="#8080ff" stroke-width="1" opacity="0.5"/>
<line x1="36.0" y1="363.1" x2="54.3" y2="363.1" stroke="#80ff00" stroke-width="1" opacity="0.3"/>
<line x1="36.0" y1="364.5" x2="54.3" y2="364.5" stroke="#80ff00" stroke-width="1" opacity="0.3"/>
<line x1="36.0" y1="370.8" x2="54.3" y2="370.8" stroke="#80ff00" stroke-width="1.8" opacity="0.9"/>
<line x1="36.0" y1="372.8" x2="54.3" y2="372.8" stroke="#80ff00" stroke-width="1" opacity="0.5"/>
<line x1="36.0" y1="400.3" x2="54.3" y2="400.3" stroke="#000000" stroke-width="1.2" opacity="0.35"/>
<line x1="36.0" y1="401.7" x2="54.3" y2="401.7" stroke="#000000" stroke-width="1" opacity="0.4"/>
<line x1="36.0" y1="403.4" x2="54.3" y2="403.4" stroke="#000000" stroke-width="1" opacity="0.7"/>
<line x1="36.0" y1="415.4" x2="54.3" y2="415.4" stroke="#000000" stroke-width="1" opacity="0.8"/>
<line x1="79.2" y1="444.2" x2="79.2" y2="461.9" stroke="#000000" stroke-width="1" opacity="0.7"/>
<line x1="82.8" y1="444.2" x2="82.8" y2="461.9" stroke="#000000" stroke-width="1" opacity="0.12"/>
<line x1="86.5" y1="444.2" x2="86.5" y2="461.9" stroke="#000000" stroke-width="1" opacity="0.6"/>
<line x1="93.2" y1="444.2" x2="93.2" y2="461.9" stroke="#000000" stroke-width="2" opacity="0.45"/>
<line x1="97.8" y1="444.2" x2="97.8" y2="461.9" stroke="#000000" stroke-width="1" opacity="0.65"/>
<line x1="102.3" y1="444.2" x2="102.3" y2="461.9" stroke="#000000" stroke-width="1" opacity="0.7"/>
<line x1="115.7" y1="444.2" x2="115.7" y2="461.9" stroke="#80ff00" stroke-width="1.2" opacity="0.95"/>
<line x1="119.9" y1="444.2" x2="119.9" y2="461.9" stroke="#00e600" stroke-width="1" opacity="0.3"/>
<line x1="123.9" y1="444.2" x2="123.9" y2="461.9" stroke="#8080ff" stroke-width="1.2" opacity="0.6"/>
<line x1="127.5" y1="444.2" x2="127.5" y2="461.9" stroke="#0000ff" stroke-width="1" opacity="0.6"/>
<line x1="130.3" y1="444.2" x2="130.3" y2="461.9" stroke="#8080ff" stroke-width="1" opacity="0.6"/>
<line x1="138.5" y1="444.2" x2="138.5" y2="461.9" stroke="#0000ff" stroke-width="1" opacity="0.6"/>
<line x1="141.6" y1="444.2" x2="141.6" y2="461.9" stroke="#0080ff" stroke-width="1.6" opacity="0.9"/>
<line x1="143.6" y1="444.2" x2="143.6" y2="461.9" stroke="#0080ff" stroke-width="1.2" opacity="0.35"/>
<line x1="145.8" y1="444.2" x2="145.8" y2="461.9" stroke="#0080ff" stroke-width="1" opacity="0.6"/>
<line x1="165.8" y1="444.2" x2="165.8" y2="461.9" stroke="#c0c0c0" stroke-width="1" opacity="0.4"/>
<line x1="172.8" y1="444.2" x2="172.8" y2="461.9" stroke="#c0c0c0" stroke-width="1" opacity="0.2"/>
<line x1="176.8" y1="444.2" x2="176.8" y2="461.9" stroke="#c0c0c0" stroke-width="1" opacity="0.4"/>
<line x1="190.4" y1="444.2" x2="190.4" y2="461.9" stroke="#ff0000" stroke-width="1" opacity="0.6"/>
<line x1="194.2" y1="444.2" x2="194.2" y2="461.9" stroke="#ff0000" stroke-width="1" opacity="0.85"/>
<line x1="197.9" y1="444.2" x2="197.9" y2="461.9" stroke="#ff0000" stroke-width="1.2" opacity="0.3"/>
<line x1="207.4" y1="444.2" x2="207.4" y2="461.9" stroke="#ff8000" stroke-width="1" opacity="0.15"/>
<line x1="211.9" y1="444.2" x2="211.9" y2="461.9" stroke="#ff8000" stroke-width="1.8" opacity="0.75"/>
<line x1="215.9" y1="444.2" x2="215.9" y2="461.9" stroke="#ff8000" stroke-width="1.2" opacity="0.55"/>
<line x1="235.3" y1="444.2" x2="235.3" y2="461.9" stroke="#ffff00" stroke-width="1" opacity="0.7"/>
<line x1="241.1" y1="444.2" x2="241.1" y2="461.9" stroke="#00e6a0" stroke-width="1.6" opacity="0.9"/>
<line x1="253.0" y1="444.2" x2="253.0" y2="461.9" stroke="#ffff00" stroke-width="1.6" opacity="0.95"/>
<line x1="293.5" y1="444.2" x2="293.5" y2="461.9" stroke="#00e600" stroke-width="1" opacity="0.5"/>
<line x1="295.5" y1="444.2" x2="295.5" y2="461.9" stroke="#00e600" stroke-width="1" opacity="0.5"/>
<line x1="298.2" y1="444.2" x2="298.2" y2="461.9" stroke="#00e600" stroke-width="1" opacity="0.5"/>
<line x1="300.8" y1="444.2" x2="300.8" y2="461.9" stroke="#00e600" stroke-width="1" opacity="0.5"/>
<circle cx="79.4" cy="400.9" r="2.2" fill="#000000" />
<circle cx="92.8" cy="403.9" r="2.2" fill="#000000" />
<circle cx="97.7" cy="403.1" r="2.2" fill="#000000" />
<circle cx="87.0" cy="411.6" r="2.2" fill="#000000" />
<circle cx="85.5" cy="413.1" r="2.2" fill="#000000" />
<circle cx="82.6" cy="415.3" r="2.2" fill="#000000" />
<circle cx="93.9" cy="413.8" r="2.2" fill="#000000" />
<circle cx="102.3" cy="415.5" r="2.2" fill="#000000" />
<circle cx="86.0" cy="419.6" r="2.2" fill="#000000" />
<circle cx="93.9" cy="418.9" r="2.2" fill="#000000" />
<circle cx="191.2" cy="325.5" r="2.2" fill="#ff0000" />
<circle cx="202.3" cy="325.8" r="2.2" fill="#ff0000" />
<circle cx="190.1" cy="328.7" r="2.2" fill="#ff0000" />
<circle cx="192.3" cy="329.4" r="2.2" fill="#ff0000" />
<circle cx="194.5" cy="330.1" r="2.2" fill="#ff0000" />
<circle cx="196.7" cy="329.7" r="2.2" fill="#ff0000" />
<circle cx="198.9" cy="329.4" r="2.2" fill="#ff0000" />
<circle cx="200.8" cy="329.1" r="2.2" fill="#ff0000" />
<circle cx="190.1" cy="331.3" r="2.2" fill="#ff0000" />
<circle cx="193.8" cy="332.0" r="2.2" fill="#ff0000" />
<circle cx="212.5" cy="321.8" r="2.2" fill="#ff8000" />
<circle cx="210.6" cy="323.6" r="2.2" fill="#ff8000" />
<circle cx="208.4" cy="325.0" r="2.2" fill="#ff8000" />
<circle cx="207.2" cy="327.2" r="2.2" fill="#ff8000" />
<circle cx="217.4" cy="323.9" r="2.2" fill="#ff8000" />
<circle cx="216.4" cy="325.8" r="2.2" fill="#ff8000" />
<circle cx="216.0" cy="328.0" r="2.2" fill="#ff8000" />
<circle cx="213.1" cy="333.5" r="2.2" fill="#ff8000" />
<circle cx="211.3" cy="335.0" r="2.2" fill="#ff8000" />
<circle cx="241.6" cy="273.7" r="2.2" fill="#ffff00" />
<circle cx="247.0" cy="276.6" r="2.2" fill="#ffff00" />
<circle cx="252.1" cy="273.7" r="2.2" fill="#ffff00" />
<circle cx="253.6" cy="276.2" r="2.2" fill="#ffff00" />
<circle cx="253.9" cy="278.4" r="2.2" fill="#ffff00" />
<circle cx="242.6" cy="280.5" r="2.2" fill="#ffff00" />
<circle cx="241.6" cy="282.0" r="2.2" fill="#ffff00" />
<circle cx="235.0" cy="286.0" r="2.2" fill="#ffff00" />
<circle cx="126.4" cy="363.1" r="2.2" fill="#80ff00" />
<circle cx="115.5" cy="364.5" r="2.2" fill="#80ff00" />
<circle cx="119.9" cy="366.0" r="2.2" fill="#80ff00" />
<circle cx="116.2" cy="370.6" r="2.2" fill="#80ff00" />
<circle cx="118.4" cy="372.2" r="2.2" fill="#80ff00" />
<circle cx="121.3" cy="371.8" r="2.2" fill="#80ff00" />
<circle cx="124.2" cy="372.9" r="2.2" fill="#80ff00" />
<circle cx="119.9" cy="370.8" r="2.2" fill="#80ff00" />
<circle cx="301.3" cy="295.1" r="2.2" fill="#00e600" />
<circle cx="301.0" cy="300.0" r="2.2" fill="#00e600" />
<circle cx="287.9" cy="302.7" r="2.2" fill="#00e600" />
<circle cx="293.0" cy="303.2" r="2.2" fill="#00e600" />
<circle cx="294.5" cy="302.4" r="2.2" fill="#00e600" />
<circle cx="295.9" cy="301.7" r="2.2" fill="#00e600" />
<circle cx="297.4" cy="303.9" r="2.2" fill="#00e600" />
<circle cx="295.2" cy="304.6" r="2.2" fill="#00e600" />
<circle cx="295.9" cy="306.4" r="2.2" fill="#00e600" />
<circle cx="298.8" cy="304.3" r="2.2" fill="#00e600" />
<circle cx="242.0" cy="323.3" r="2.2" fill="#00ffff" />
<circle cx="242.7" cy="324.7" r="2.2" fill="#00ffff" />
<circle cx="241.2" cy="325.8" r="2.2" fill="#00ffff" />
<circle cx="240.5" cy="327.2" r="2.2" fill="#00ffff" />
<circle cx="141.0" cy="323.4" r="2.2" fill="#0080ff" />
<circle cx="146.9" cy="322.2" r="2.2" fill="#0080ff" />
<circle cx="141.8" cy="327.0" r="2.2" fill="#0080ff" />
<circle cx="144.7" cy="326.6" r="2.2" fill="#0080ff" />
<circle cx="146.1" cy="329.2" r="2.2" fill="#0080ff" />
<circle cx="135.9" cy="331.4" r="2.2" fill="#0080ff" />
<circle cx="141.8" cy="333.9" r="2.2" fill="#0080ff" />
<circle cx="145.1" cy="334.3" r="2.2" fill="#0080ff" />
<circle cx="149.1" cy="335.8" r="2.2" fill="#0080ff" />
<circle cx="142.9" cy="338.2" r="2.2" fill="#0080ff" />
<circle cx="138.5" cy="335.8" r="2.2" fill="#0000ff" />
<circle cx="138.5" cy="338.0" r="2.2" fill="#0000ff" />
<circle cx="119.9" cy="342.3" r="2.2" fill="#0000ff" />
<circle cx="123.9" cy="340.1" r="2.2" fill="#0000ff" />
<circle cx="127.2" cy="339.7" r="2.2" fill="#0000ff" />
<circle cx="123.9" cy="343.1" r="2.2" fill="#0000ff" />
<circle cx="130.1" cy="342.3" r="2.2" fill="#0000ff" />
<circle cx="131.2" cy="342.6" r="2.2" fill="#0000ff" />
<circle cx="136.2" cy="345.0" r="2.2" fill="#0000ff" />
<circle cx="139.1" cy="344.1" r="2.2" fill="#0000ff" />
<circle cx="165.8" cy="306.8" r="2.2" fill="#c0c0c0" />
<circle cx="171.9" cy="310.1" r="2.2" fill="#c0c0c0" />
<circle cx="170.4" cy="311.6" r="2.2" fill="#c0c0c0" />
<circle cx="169.7" cy="314.1" r="2.2" fill="#c0c0c0" />
<circle cx="167.8" cy="317.7" r="2.2" fill="#c0c0c0" />
<circle cx="165.8" cy="321.4" r="2.2" fill="#c0c0c0" />
<circle cx="176.6" cy="319.9" r="2.2" fill="#c0c0c0" />
<circle cx="181.4" cy="319.6" r="2.2" fill="#c0c0c0" />
<circle cx="195.7" cy="319.2" r="2.2" fill="#c0c0c0" />
<line x1="395.5" y1="248.5" x2="685.0" y2="248.5" stroke="#444444" stroke-width="1.2" />
<line x1="684.1" y1="248.5" x2="684.1" y2="461.3" stroke="#6a6a6a" stroke-width="1.2" />
<line x1="419.3" y1="248.5" x2="419.3" y2="461.3" stroke="#6a6a6a" stroke-width="1.2" />
<line x1="396.5" y1="248.5" x2="396.5" y2="438.2" stroke="#444444" stroke-width="1.2" />
<line x1="393.0" y1="438.2" x2="684.1" y2="438.2" stroke="#222" stroke-width="1.2" />
<line x1="419.3" y1="461.3" x2="684.1" y2="461.3" stroke="#444444" stroke-width="1.1" />
<line x1="393.0" y1="266.2" x2="396.5" y2="266.2" stroke="#444444" stroke-width="1" />
<text x="390.5" y="270.2" font-size="11.7" text-anchor="end" fill="#111" >0.8</text>
<line x1="394.5" y1="283.4" x2="396.5" y2="283.4" stroke="#444444" stroke-width="1" />
<line x1="393.0" y1="300.6" x2="396.5" y2="300.6" stroke="#444444" stroke-width="1" />
<text x="390.5" y="304.6" font-size="11.7" text-anchor="end" fill="#111" >0.7</text>
<line x1="394.5" y1="317.8" x2="396.5" y2="317.8" stroke="#444444" stroke-width="1" />
<line x1="393.0" y1="335.0" x2="396.5" y2="335.0" stroke="#444444" stroke-width="1" />
<text x="390.5" y="339.0" font-size="11.7" text-anchor="end" fill="#111" >0.6</text>
<line x1="394.5" y1="352.2" x2="396.5" y2="352.2" stroke="#444444" stroke-width="1" />
<line x1="393.0" y1="369.4" x2="396.5" y2="369.4" stroke="#444444" stroke-width="1" />
<text x="390.5" y="373.4" font-size="11.7" text-anchor="end" fill="#111" >0.5</text>
<line x1="394.5" y1="386.6" x2="396.5" y2="386.6" stroke="#444444" stroke-width="1" />
<line x1="393.0" y1="403.8" x2="396.5" y2="403.8" stroke="#444444" stroke-width="1" />
<text x="390.5" y="407.8" font-size="11.7" text-anchor="end" fill="#111" >0.4</text>
<line x1="394.5" y1="421.0" x2="396.5" y2="421.0" stroke="#444444" stroke-width="1" />
<text x="390.5" y="442.2" font-size="11.7" text-anchor="end" fill="#111" >0.3</text>
<line x1="438.2" y1="461.3" x2="438.2" y2="464.5" stroke="#444444" stroke-width="1" />
<text x="438.2" y="476.5" font-size="11.7" text-anchor="middle" fill="#111" >20</text>
<line x1="457.2" y1="461.3" x2="457.2" y2="463.1" stroke="#444444" stroke-width="1" />
<line x1="476.2" y1="461.3" x2="476.2" y2="464.5" stroke="#444444" stroke-width="1" />
<text x="476.2" y="476.5" font-size="11.7" text-anchor="middle" fill="#111" >30</text>
<line x1="495.2" y1="461.3" x2="495.2" y2="463.1" stroke="#444444" stroke-width="1" />
<line x1="514.2" y1="461.3" x2="514.2" y2="464.5" stroke="#444444" stroke-width="1" />
<text x="514.2" y="476.5" font-size="11.7" text-anchor="middle" fill="#111" >40</text>
<line x1="533.2" y1="461.3" x2="533.2" y2="463.1" stroke="#444444" stroke-width="1" />
<line x1="552.2" y1="461.3" x2="552.2" y2="464.5" stroke="#444444" stroke-width="1" />
<text x="552.2" y="476.5" font-size="11.7" text-anchor="middle" fill="#111" >50</text>
<line x1="571.2" y1="461.3" x2="571.2" y2="463.1" stroke="#444444" stroke-width="1" />
<line x1="590.2" y1="461.3" x2="590.2" y2="464.5" stroke="#444444" stroke-width="1" />
<text x="590.2" y="476.5" font-size="11.7" text-anchor="middle" fill="#111" >60</text>
<line x1="609.2" y1="461.3" x2="609.2" y2="463.1" stroke="#444444" stroke-width="1" />
<line x1="628.2" y1="461.3" x2="628.2" y2="464.5" stroke="#444444" stroke-width="1" />
<text x="628.2" y="476.5" font-size="11.7" text-anchor="middle" fill="#111" >70</text>
<line x1="647.2" y1="461.3" x2="647.2" y2="463.1" stroke="#444444" stroke-width="1" />
<line x1="666.2" y1="461.3" x2="666.2" y2="464.5" stroke="#444444" stroke-width="1" />
<text x="666.2" y="476.5" font-size="11.7" text-anchor="middle" fill="#111" >80</text>
<text x="551.8" y="494.3" font-size="11.7" text-anchor="middle" fill="#111" >Canberra distance</text>
<text transform="translate(370.6,344.2) rotate(-90)" font-size="11.7" text-anchor="middle" fill="#111">Contrast</text>
<line x1="399.0" y1="276.1" x2="416.8" y2="276.1" stroke="#ffff00" stroke-width="1" opacity="0.3"/>
<line x1="399.0" y1="280.8" x2="416.8" y2="280.8" stroke="#ffff00" stroke-width="1.6" opacity="0.45"/>
<line x1="399.0" y1="294.6" x2="416.8" y2="294.6" stroke="#00e600" stroke-width="1" opacity="0.6"/>
<line x1="399.0" y1="299.3" x2="416.8" y2="299.3" stroke="#00e600" stroke-width="1" opacity="0.6"/>
<line x1="399.0" y1="302.5" x2="416.8" y2="302.5" stroke="#00e600" stroke-width="1.2" opacity="0.85"/>
<line x1="399.0" y1="305.7" x2="416.8" y2="305.7" stroke="#c0c0c0" stroke-width="1" opacity="0.2"/>
<line x1="399.0" y1="309.3" x2="416.8" y2="309.3" stroke="#c0c0c0" stroke-width="1" opacity="0.4"/>
<line x1="399.0" y1="317.8" x2="416.8" y2="317.8" stroke="#c0c0c0" stroke-width="1.4" opacity="0.2"/>
<line x1="399.0" y1="322.0" x2="416.8" y2="322.0" stroke="#ff8000" stroke-width="1.4" opacity="0.3"/>
<line x1="399.0" y1="323.4" x2="416.8" y2="323.4" stroke="#ff8000" stroke-width="1" opacity="0.6"/>
<line x1="399.0" y1="324.4" x2="416.8" y2="324.4" stroke="#e04010" stroke-width="1.2" opacity="0.85"/>
<line x1="399.0" y1="325.8" x2="416.8" y2="325.8" stroke="#00ffff" stroke-width="1" opacity="0.3"/>
<line x1="399.0" y1="329.0" x2="416.8" y2="329.0" stroke="#ff0000" stroke-width="1.6" opacity="0.35"/>
<line x1="399.0" y1="330.5" x2="416.8" y2="330.5" stroke="#0080ff" stroke-width="1" opacity="0.7"/>
<line x1="399.0" y1="333.5" x2="416.8" y2="333.5" stroke="#ff8000" stroke-width="1" opacity="0.6"/>
<line x1="399.0" y1="336.1" x2="416.8" y2="336.1" stroke="#0080ff" stroke-width="1" opacity="0.2"/>
<line x1="399.0" y1="338.5" x2="416.8" y2="338.5" stroke="#0000ff" stroke-width="1" opacity="0.6"/>
<line x1="399.0" y1="341.5" x2="416.8" y2="341.5" stroke="#0000ff" stroke-width="1.2" opacity="0.75"/>
<line x1="399.0" y1="360.7" x2="416.8" y2="360.7" stroke="#80ff00" stroke-width="1" opacity="0.2"/>
<line x1="399.0" y1="362.7" x2="416.8" y2="362.7" stroke="#80ff00" stroke-width="1" opacity="0.2"/>
<line x1="399.0" y1="364.5" x2="416.8" y2="364.5" stroke="#80ff00" stroke-width="1" opacity="0.25"/>
<line x1="399.0" y1="370.8" x2="416.8" y2="370.8" stroke="#80ff00" stroke-width="1.4" opacity="0.95"/>
<line x1="399.0" y1="401.3" x2="416.8" y2="401.3" stroke="#000000" stroke-width="1" opacity="0.5"/>
<line x1="399.0" y1="410.6" x2="416.8" y2="410.6" stroke="#000000" stroke-width="1" opacity="0.2"/>
<line x1="399.0" y1="412.3" x2="416.8" y2="412.3" stroke="#000000" stroke-width="0.9" opacity="0.75"/>
<line x1="448.3" y1="440.6" x2="448.3" y2="458.6" stroke="#00e600" stroke-width="1" opacity="0.3"/>
<line x1="451.6" y1="440.6" x2="451.6" y2="458.6" stroke="#00e600" stroke-width="2" opacity="0.8"/>
<line x1="452.9" y1="440.6" x2="452.9" y2="458.6" stroke="#00e600" stroke-width="1" opacity="0.6"/>
<line x1="455.4" y1="440.6" x2="455.4" y2="458.6" stroke="#00e600" stroke-width="1" opacity="0.35"/>
<line x1="471.9" y1="440.6" x2="471.9" y2="458.6" stroke="#ffff00" stroke-width="1.8" opacity="0.95"/>
<line x1="481.9" y1="440.6" x2="481.9" y2="458.6" stroke="#ffff00" stroke-width="1.8" opacity="0.95"/>
<line x1="488.6" y1="440.6" x2="488.6" y2="458.6" stroke="#ffff00" stroke-width="1" opacity="0.2"/>
<line x1="496.2" y1="440.6" x2="496.2" y2="458.6" stroke="#00ffff" stroke-width="2" opacity="0.95"/>
<line x1="510.8" y1="440.6" x2="510.8" y2="458.6" stroke="#ff8000" stroke-width="1" opacity="0.55"/>
<line x1="513.6" y1="440.6" x2="513.6" y2="458.6" stroke="#ff8000" stroke-width="1" opacity="0.6"/>
<line x1="515.3" y1="440.6" x2="515.3" y2="458.6" stroke="#ff8000" stroke-width="1" opacity="0.6"/>
<line x1="516.9" y1="440.6" x2="516.9" y2="458.6" stroke="#ff8000" stroke-width="1" opacity="0.6"/>
<line x1="518.2" y1="440.6" x2="518.2" y2="458.6" stroke="#ff8000" stroke-width="1" opacity="0.6"/>
<line x1="519.7" y1="440.6" x2="519.7" y2="458.6" stroke="#ff8000" stroke-width="1" opacity="0.5"/>
<line x1="525.2" y1="440.6" x2="525.2" y2="458.6" stroke="#ff0000" stroke-width="1.2" opacity="0.45"/>
<line x1="527.5" y1="440.6" x2="527.5" y2="458.6" stroke="#ff0000" stroke-width="1" opacity="0.4"/>
<line x1="532.8" y1="440.6" x2="532.8" y2="458.6" stroke="#ff0000" stroke-width="1" opacity="0.25"/>
<line x1="534.5" y1="440.6" x2="534.5" y2="458.6" stroke="#ff0000" stroke-width="1" opacity="0.25"/>
<line x1="541.2" y1="440.6" x2="541.2" y2="458.6" stroke="#ff0000" stroke-width="1" opacity="0.8"/>
<line x1="552.5" y1="440.6" x2="552.5" y2="458.6" stroke="#c0c0c0" stroke-width="1" opacity="0.2"/>
<line x1="557.3" y1="440.6" x2="557.3" y2="458.6" stroke="#c0c0c0" stroke-width="1" opacity="0.35"/>
<line x1="562.6" y1="440.6" x2="562.6" y2="458.6" stroke="#c0c0c0" stroke-width="1" opacity="0.35"/>
<line x1="564.5" y1="440.6" x2="564.5" y2="458.6" stroke="#c0c0c0" stroke-width="1" opacity="0.35"/>
<line x1="575.9" y1="440.6" x2="575.9" y2="458.6" stroke="#0080ff" stroke-width="1.4" opacity="0.35"/>
<line x1="580.6" y1="440.6" x2="580.6" y2="458.6" stroke="#0080ff" stroke-width="1.8" opacity="0.95"/>
<line x1="584.4" y1="440.6" x2="584.4" y2="458.6" stroke="#8080ff" stroke-width="1.4" opacity="0.6"/>
<line x1="586.9" y1="440.6" x2="586.9" y2="458.6" stroke="#0080ff" stroke-width="1.2" opacity="0.35"/>
<line x1="591.4" y1="440.6" x2="591.4" y2="458.6" stroke="#0000ff" stroke-width="1" opacity="0.65"/>
<line x1="597.1" y1="440.6" x2="597.1" y2="458.6" stroke="#0000ff" stroke-width="1.2" opacity="0.45"/>
<line x1="602.4" y1="440.6" x2="602.4" y2="458.6" stroke="#80ff00" stroke-width="1" opacity="0.95"/>
<line x1="609.5" y1="440.6" x2="609.5" y2="458.6" stroke="#80ff00" stroke-width="1" opacity="0.45"/>
<line x1="612.3" y1="440.6" x2="612.3" y2="458.6" stroke="#80ff00" stroke-width="1" opacity="0.45"/>
<line x1="630.9" y1="440.6" x2="630.9" y2="458.6" stroke="#000000" stroke-width="1.4" opacity="0.4"/>
<line x1="647.4" y1="440.6" x2="647.4" y2="458.6" stroke="#000000" stroke-width="2.6" opacity="0.45"/>
<line x1="656.5" y1="440.6" x2="656.5" y2="458.6" stroke="#000000" stroke-width="1" opacity="0.75"/>
<circle cx="656.5" cy="398.2" r="2.2" fill="#000000" />
<circle cx="640.8" cy="400.4" r="2.2" fill="#000000" />
<circle cx="646.0" cy="401.5" r="2.2" fill="#000000" />
<circle cx="650.0" cy="408.5" r="2.2" fill="#000000" />
<circle cx="641.2" cy="410.9" r="2.2" fill="#000000" />
<circle cx="648.5" cy="410.9" r="2.2" fill="#000000" />
<circle cx="631.0" cy="412.4" r="2.2" fill="#000000" />
<circle cx="647.0" cy="415.8" r="2.2" fill="#000000" />
<circle cx="650.3" cy="416.8" r="2.2" fill="#000000" />
<circle cx="527.7" cy="324.7" r="2.2" fill="#ff0000" />
<circle cx="539.6" cy="324.7" r="2.2" fill="#ff0000" />
<circle cx="525.0" cy="328.7" r="2.2" fill="#ff0000" />
<circle cx="529.4" cy="328.2" r="2.2" fill="#ff0000" />
<circle cx="533.8" cy="326.2" r="2.2" fill="#ff0000" />
<circle cx="534.5" cy="328.7" r="2.2" fill="#ff0000" />
<circle cx="532.3" cy="330.6" r="2.2" fill="#ff0000" />
<circle cx="536.7" cy="329.4" r="2.2" fill="#ff0000" />
<circle cx="539.3" cy="330.1" r="2.2" fill="#ff0000" />
<circle cx="541.8" cy="329.4" r="2.2" fill="#ff0000" />
<circle cx="515.1" cy="320.9" r="2.2" fill="#ff8000" />
<circle cx="511.6" cy="323.3" r="2.2" fill="#ff8000" />
<circle cx="519.2" cy="323.9" r="2.2" fill="#ff8000" />
<circle cx="511.2" cy="326.5" r="2.2" fill="#ff8000" />
<circle cx="519.9" cy="326.2" r="2.2" fill="#ff8000" />
<circle cx="515.1" cy="332.3" r="2.2" fill="#ff8000" />
<circle cx="517.4" cy="333.5" r="2.2" fill="#ff8000" />
<circle cx="471.2" cy="273.2" r="2.2" fill="#ffff00" />
<circle cx="470.1" cy="275.4" r="2.2" fill="#ffff00" />
<circle cx="472.3" cy="278.1" r="2.2" fill="#ffff00" />
<circle cx="482.6" cy="273.2" r="2.2" fill="#ffff00" />
<circle cx="480.4" cy="274.3" r="2.2" fill="#ffff00" />
<circle cx="478.2" cy="275.7" r="2.2" fill="#ffff00" />
<circle cx="481.4" cy="280.5" r="2.2" fill="#ffff00" />
<circle cx="488.7" cy="285.2" r="2.2" fill="#ffff00" />
<circle cx="602.2" cy="360.7" r="2.2" fill="#80ff00" />
<circle cx="601.9" cy="362.4" r="2.2" fill="#80ff00" />
<circle cx="612.0" cy="362.9" r="2.2" fill="#80ff00" />
<circle cx="609.4" cy="364.1" r="2.2" fill="#80ff00" />
<circle cx="612.0" cy="368.4" r="2.2" fill="#80ff00" />
<circle cx="609.4" cy="369.1" r="2.2" fill="#80ff00" />
<circle cx="607.3" cy="369.6" r="2.2" fill="#80ff00" />
<circle cx="605.8" cy="370.8" r="2.2" fill="#80ff00" />
<circle cx="447.2" cy="294.4" r="2.2" fill="#00e600" />
<circle cx="446.4" cy="298.8" r="2.2" fill="#00e600" />
<circle cx="448.2" cy="301.7" r="2.2" fill="#00e600" />
<circle cx="451.6" cy="300.5" r="2.2" fill="#00e600" />
<circle cx="453.4" cy="302.4" r="2.2" fill="#00e600" />
<circle cx="455.5" cy="301.7" r="2.2" fill="#00e600" />
<circle cx="448.2" cy="305.4" r="2.2" fill="#00e600" />
<circle cx="454.1" cy="303.9" r="2.2" fill="#00e600" />
<circle cx="450.4" cy="303.2" r="2.2" fill="#00e600" />
<circle cx="492.2" cy="322.8" r="2.2" fill="#00ffff" />
<circle cx="495.1" cy="321.8" r="2.2" fill="#00ffff" />
<circle cx="498.0" cy="323.3" r="2.2" fill="#00ffff" />
<circle cx="496.6" cy="325.8" r="2.2" fill="#00ffff" />
<circle cx="580.1" cy="320.9" r="2.2" fill="#0080ff" />
<circle cx="583.4" cy="322.1" r="2.2" fill="#0080ff" />
<circle cx="580.9" cy="325.1" r="2.2" fill="#0080ff" />
<circle cx="583.8" cy="325.9" r="2.2" fill="#0080ff" />
<circle cx="581.4" cy="327.6" r="2.2" fill="#0080ff" />
<circle cx="586.8" cy="330.1" r="2.2" fill="#0080ff" />
<circle cx="585.1" cy="331.8" r="2.2" fill="#0080ff" />
<circle cx="579.2" cy="332.7" r="2.2" fill="#0080ff" />
<circle cx="575.9" cy="334.3" r="2.2" fill="#0080ff" />
<circle cx="581.4" cy="336.5" r="2.2" fill="#0080ff" />
<circle cx="588.5" cy="334.8" r="2.2" fill="#0000ff" />
<circle cx="585.4" cy="336.0" r="2.2" fill="#0000ff" />
<circle cx="584.8" cy="342.7" r="2.2" fill="#0000ff" />
<circle cx="588.5" cy="343.2" r="2.2" fill="#0000ff" />
<circle cx="591.8" cy="340.6" r="2.2" fill="#0000ff" />
<circle cx="594.3" cy="341.1" r="2.2" fill="#0000ff" />
<circle cx="596.9" cy="338.9" r="2.2" fill="#0000ff" />
<circle cx="597.7" cy="341.1" r="2.2" fill="#0000ff" />
<circle cx="599.9" cy="340.7" r="2.2" fill="#0000ff" />
<circle cx="541.4" cy="318.0" r="2.2" fill="#c0c0c0" />
<circle cx="552.5" cy="317.4" r="2.2" fill="#c0c0c0" />
<circle cx="553.5" cy="318.8" r="2.2" fill="#c0c0c0" />
<circle cx="562.7" cy="305.6" r="2.2" fill="#c0c0c0" />
<circle cx="557.4" cy="309.3" r="2.2" fill="#c0c0c0" />
<circle cx="561.8" cy="312.6" r="2.2" fill="#c0c0c0" />
<circle cx="562.3" cy="316.6" r="2.2" fill="#c0c0c0" />
<circle cx="564.5" cy="320.7" r="2.2" fill="#c0c0c0" />
</svg></body></html>
